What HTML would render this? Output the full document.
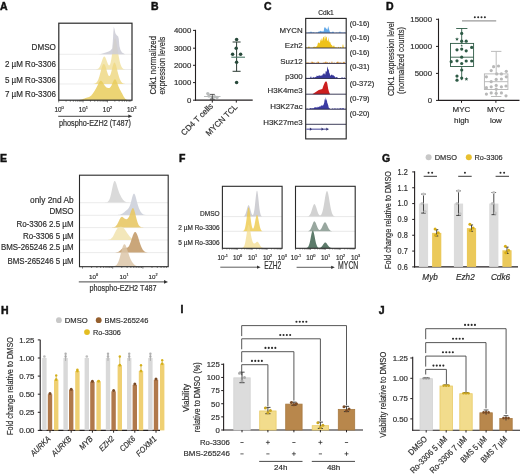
<!DOCTYPE html>
<html><head><meta charset="utf-8"><style>
html,body{margin:0;padding:0;background:#fff;width:520px;height:476px;overflow:hidden;}
svg{display:block;will-change:transform;font-family:"Liberation Sans", sans-serif;}
</style></head><body>
<svg width="520" height="476" viewBox="0 0 520 476" font-family='"Liberation Sans", sans-serif'>
<rect width="520" height="476" fill="#fff"/>
<text x="0.00" y="9.60" font-size="10.5" text-anchor="start" fill="#111" font-weight="bold" stroke="#111" stroke-width="0.45">A</text>
<text x="55.90" y="50.10" font-size="8.4" text-anchor="end" fill="#2e2e2e" stroke="#2e2e2e" stroke-width="0.18" textLength="24.3" lengthAdjust="spacingAndGlyphs">DMSO</text>
<text x="55.90" y="67.40" font-size="8.4" text-anchor="end" fill="#2e2e2e" stroke="#2e2e2e" stroke-width="0.18" textLength="51.0" lengthAdjust="spacingAndGlyphs">2 µM Ro-3306</text>
<text x="55.90" y="82.80" font-size="8.4" text-anchor="end" fill="#2e2e2e" stroke="#2e2e2e" stroke-width="0.18" textLength="51.0" lengthAdjust="spacingAndGlyphs">5 µM Ro-3306</text>
<text x="55.90" y="97.00" font-size="8.4" text-anchor="end" fill="#2e2e2e" stroke="#2e2e2e" stroke-width="0.18" textLength="51.0" lengthAdjust="spacingAndGlyphs">7 µM Ro-3306</text>
<line x1="59.00" y1="54.30" x2="132.00" y2="54.30" stroke="#e4e4e4" stroke-width="0.7"/>
<line x1="59.00" y1="69.50" x2="132.00" y2="69.50" stroke="#e4e4e4" stroke-width="0.7"/>
<line x1="59.00" y1="84.00" x2="132.00" y2="84.00" stroke="#e4e4e4" stroke-width="0.7"/>
<path d="M92.00,69.50 L92.00,69.50 L92.50,69.50 L93.00,69.50 L93.50,69.50 L94.00,69.49 L94.50,69.49 L95.00,69.48 L95.50,69.46 L96.00,69.42 L96.50,69.36 L97.00,69.25 L97.50,69.07 L98.00,68.81 L98.50,68.42 L99.00,67.87 L99.50,67.13 L100.00,66.19 L100.50,65.03 L101.00,63.69 L101.50,62.22 L102.00,60.71 L102.50,59.27 L103.00,58.03 L103.50,57.10 L104.00,56.59 L104.50,56.54 L105.00,56.96 L105.50,57.80 L106.00,58.97 L106.50,60.34 L107.00,61.77 L107.50,63.12 L108.00,64.26 L108.50,65.06 L109.00,65.42 L109.50,65.23 L110.00,64.43 L110.50,62.95 L111.00,60.77 L111.50,57.94 L112.00,54.57 L112.50,50.87 L113.00,47.13 L113.50,43.68 L114.00,40.86 L114.50,38.96 L115.00,38.18 L115.50,38.55 L116.00,39.99 L116.50,42.31 L117.00,45.24 L117.50,48.48 L118.00,51.78 L118.50,54.93 L119.00,57.80 L119.50,60.30 L120.00,62.42 L120.50,64.16 L121.00,65.57 L121.50,66.67 L122.00,67.52 L122.50,68.15 L123.00,68.60 L123.50,68.93 L124.00,69.14 L124.50,69.29 L125.00,69.38 L125.50,69.43 L126.00,69.46 L126.00,69.50 Z" fill="#f2e3a6" fill-opacity="0.9" stroke="none" stroke-width="0.4"/>
<path d="M90.00,84.00 L90.00,84.00 L90.50,84.00 L91.00,83.99 L91.50,83.99 L92.00,83.98 L92.50,83.96 L93.00,83.93 L93.50,83.89 L94.00,83.82 L94.50,83.71 L95.00,83.54 L95.50,83.31 L96.00,82.97 L96.50,82.52 L97.00,81.91 L97.50,81.12 L98.00,80.13 L98.50,78.93 L99.00,77.51 L99.50,75.89 L100.00,74.12 L100.50,72.25 L101.00,70.36 L101.50,68.55 L102.00,66.93 L102.50,65.58 L103.00,64.61 L103.50,64.08 L104.00,64.03 L104.50,64.45 L105.00,65.32 L105.50,66.56 L106.00,68.07 L106.50,69.74 L107.00,71.44 L107.50,73.03 L108.00,74.38 L108.50,75.39 L109.00,75.95 L109.50,75.99 L110.00,75.49 L110.50,74.46 L111.00,72.95 L111.50,71.09 L112.00,69.04 L112.50,67.00 L113.00,65.16 L113.50,63.72 L114.00,62.82 L114.50,62.56 L115.00,62.93 L115.50,63.90 L116.00,65.34 L116.50,67.13 L117.00,69.10 L117.50,71.14 L118.00,73.13 L118.50,74.98 L119.00,76.67 L119.50,78.15 L120.00,79.43 L120.50,80.51 L121.00,81.40 L121.50,82.11 L122.00,82.67 L122.50,83.09 L123.00,83.39 L123.50,83.61 L124.00,83.76 L124.50,83.86 L125.00,83.92 L125.50,83.95 L126.00,83.98 L126.00,84.00 Z" fill="#efd885" fill-opacity="0.85" stroke="none" stroke-width="0.4"/>
<path d="M78.00,100.20 L78.00,100.09 L78.50,100.05 L79.00,100.00 L79.50,99.94 L80.00,99.86 L80.50,99.77 L81.00,99.66 L81.50,99.53 L82.00,99.39 L82.50,99.23 L83.00,99.05 L83.50,98.87 L84.00,98.68 L84.50,98.48 L85.00,98.29 L85.50,98.10 L86.00,97.93 L86.50,97.76 L87.00,97.60 L87.50,97.45 L88.00,97.30 L88.50,97.13 L89.00,96.94 L89.50,96.71 L90.00,96.43 L90.50,96.08 L91.00,95.66 L91.50,95.17 L92.00,94.61 L92.50,93.98 L93.00,93.30 L93.50,92.57 L94.00,91.81 L94.50,91.03 L95.00,90.21 L95.50,89.36 L96.00,88.47 L96.50,87.53 L97.00,86.55 L97.50,85.53 L98.00,84.51 L98.50,83.51 L99.00,82.60 L99.50,81.82 L100.00,81.23 L100.50,80.87 L101.00,80.78 L101.50,80.96 L102.00,81.39 L102.50,82.02 L103.00,82.80 L103.50,83.65 L104.00,84.50 L104.50,85.30 L105.00,86.01 L105.50,86.59 L106.00,87.05 L106.50,87.40 L107.00,87.67 L107.50,87.86 L108.00,87.99 L108.50,88.05 L109.00,88.03 L109.50,87.88 L110.00,87.57 L110.50,87.06 L111.00,86.33 L111.50,85.40 L112.00,84.29 L112.50,83.09 L113.00,81.88 L113.50,80.79 L114.00,79.94 L114.50,79.41 L115.00,79.27 L115.50,79.55 L116.00,80.21 L116.50,81.20 L117.00,82.42 L117.50,83.76 L118.00,85.11 L118.50,86.41 L119.00,87.61 L119.50,88.69 L120.00,89.67 L120.50,90.59 L121.00,91.49 L121.50,92.41 L122.00,93.35 L122.50,94.31 L123.00,95.27 L123.50,96.20 L124.00,97.06 L124.50,97.82 L125.00,98.45 L125.50,98.97 L126.00,99.36 L126.50,99.65 L127.00,99.86 L127.50,99.99 L128.00,100.08 L128.00,100.20 Z" fill="#e9cc5c" fill-opacity="0.85" stroke="none" stroke-width="0.4"/>
<path d="M98,54.3 L101,53.9 L105,52.8 L108,51.8 L110.5,50.5 L112.2,48.4 L112.8,42 L113.3,33 L113.8,26.8 L114.5,29 L115.3,33 L115.8,34 L117,35.5 L118.2,36.4 L118.8,39 L119.4,46 L120.5,50 L122,52.5 L123.8,53.6 L125,54.3 Z" fill="#cbcbd5" fill-opacity="0.85"/>
<rect x="58.8" y="23.2" width="73.2" height="77.0" fill="none" stroke="#2a2a2a" stroke-width="1.2"/>
<line x1="58.70" y1="100.20" x2="58.70" y2="102.40" stroke="#333" stroke-width="0.6"/>
<line x1="66.05" y1="100.20" x2="66.05" y2="101.70" stroke="#333" stroke-width="0.6"/>
<line x1="70.34" y1="100.20" x2="70.34" y2="101.70" stroke="#333" stroke-width="0.6"/>
<line x1="73.39" y1="100.20" x2="73.39" y2="101.70" stroke="#333" stroke-width="0.6"/>
<line x1="75.75" y1="100.20" x2="75.75" y2="101.70" stroke="#333" stroke-width="0.6"/>
<line x1="77.69" y1="100.20" x2="77.69" y2="101.70" stroke="#333" stroke-width="0.6"/>
<line x1="79.32" y1="100.20" x2="79.32" y2="101.70" stroke="#333" stroke-width="0.6"/>
<line x1="80.74" y1="100.20" x2="80.74" y2="101.70" stroke="#333" stroke-width="0.6"/>
<line x1="81.98" y1="100.20" x2="81.98" y2="101.70" stroke="#333" stroke-width="0.6"/>
<line x1="83.10" y1="100.20" x2="83.10" y2="102.40" stroke="#333" stroke-width="0.6"/>
<line x1="90.45" y1="100.20" x2="90.45" y2="101.70" stroke="#333" stroke-width="0.6"/>
<line x1="94.74" y1="100.20" x2="94.74" y2="101.70" stroke="#333" stroke-width="0.6"/>
<line x1="97.79" y1="100.20" x2="97.79" y2="101.70" stroke="#333" stroke-width="0.6"/>
<line x1="100.15" y1="100.20" x2="100.15" y2="101.70" stroke="#333" stroke-width="0.6"/>
<line x1="102.09" y1="100.20" x2="102.09" y2="101.70" stroke="#333" stroke-width="0.6"/>
<line x1="103.72" y1="100.20" x2="103.72" y2="101.70" stroke="#333" stroke-width="0.6"/>
<line x1="105.14" y1="100.20" x2="105.14" y2="101.70" stroke="#333" stroke-width="0.6"/>
<line x1="106.38" y1="100.20" x2="106.38" y2="101.70" stroke="#333" stroke-width="0.6"/>
<line x1="107.50" y1="100.20" x2="107.50" y2="102.40" stroke="#333" stroke-width="0.6"/>
<line x1="114.85" y1="100.20" x2="114.85" y2="101.70" stroke="#333" stroke-width="0.6"/>
<line x1="119.14" y1="100.20" x2="119.14" y2="101.70" stroke="#333" stroke-width="0.6"/>
<line x1="122.19" y1="100.20" x2="122.19" y2="101.70" stroke="#333" stroke-width="0.6"/>
<line x1="124.55" y1="100.20" x2="124.55" y2="101.70" stroke="#333" stroke-width="0.6"/>
<line x1="126.49" y1="100.20" x2="126.49" y2="101.70" stroke="#333" stroke-width="0.6"/>
<line x1="128.12" y1="100.20" x2="128.12" y2="101.70" stroke="#333" stroke-width="0.6"/>
<line x1="129.54" y1="100.20" x2="129.54" y2="101.70" stroke="#333" stroke-width="0.6"/>
<line x1="130.78" y1="100.20" x2="130.78" y2="101.70" stroke="#333" stroke-width="0.6"/>
<text x="59.10" y="111.60" font-size="6.4" text-anchor="middle" fill="#2e2e2e" stroke="#2e2e2e" stroke-width="0.18">10<tspan font-size="3.97" dy="-2.6">0</tspan></text>
<text x="83.30" y="111.60" font-size="6.4" text-anchor="middle" fill="#2e2e2e" stroke="#2e2e2e" stroke-width="0.18">10<tspan font-size="3.97" dy="-2.6">1</tspan></text>
<text x="107.50" y="111.60" font-size="6.4" text-anchor="middle" fill="#2e2e2e" stroke="#2e2e2e" stroke-width="0.18">10<tspan font-size="3.97" dy="-2.6">2</tspan></text>
<text x="131.70" y="111.60" font-size="6.4" text-anchor="middle" fill="#2e2e2e" stroke="#2e2e2e" stroke-width="0.18">10<tspan font-size="3.97" dy="-2.6">3</tspan></text>
<line x1="58.20" y1="116.30" x2="129.50" y2="116.30" stroke="#333" stroke-width="0.9"/>
<path d="M132.3,116.3 L128.3,114.5 L128.3,118.1 Z" fill="#333"/>
<text x="95.00" y="125.50" font-size="8.4" text-anchor="middle" fill="#2e2e2e" stroke="#2e2e2e" stroke-width="0.18" textLength="72" lengthAdjust="spacingAndGlyphs">phospho-EZH2 (T487)</text>
<text x="151.00" y="9.80" font-size="10.5" text-anchor="start" fill="#111" font-weight="bold" stroke="#111" stroke-width="0.45">B</text>
<line x1="195.50" y1="29.80" x2="195.50" y2="100.70" stroke="#231f20" stroke-width="1.1"/>
<line x1="195.00" y1="100.20" x2="252.70" y2="100.20" stroke="#231f20" stroke-width="1.2"/>
<line x1="193.00" y1="30.40" x2="195.50" y2="30.40" stroke="#231f20" stroke-width="1"/>
<text x="191.30" y="33.20" font-size="7.8" text-anchor="end" fill="#2e2e2e" stroke="#2e2e2e" stroke-width="0.18">4000</text>
<line x1="193.00" y1="48.20" x2="195.50" y2="48.20" stroke="#231f20" stroke-width="1"/>
<text x="191.30" y="51.00" font-size="7.8" text-anchor="end" fill="#2e2e2e" stroke="#2e2e2e" stroke-width="0.18">3000</text>
<line x1="193.00" y1="65.30" x2="195.50" y2="65.30" stroke="#231f20" stroke-width="1"/>
<text x="191.30" y="68.10" font-size="7.8" text-anchor="end" fill="#2e2e2e" stroke="#2e2e2e" stroke-width="0.18">2000</text>
<line x1="193.00" y1="82.60" x2="195.50" y2="82.60" stroke="#231f20" stroke-width="1"/>
<text x="191.30" y="85.40" font-size="7.8" text-anchor="end" fill="#2e2e2e" stroke="#2e2e2e" stroke-width="0.18">1000</text>
<line x1="193.00" y1="100.20" x2="195.50" y2="100.20" stroke="#231f20" stroke-width="1"/>
<text x="191.30" y="103.00" font-size="7.8" text-anchor="end" fill="#2e2e2e" stroke="#2e2e2e" stroke-width="0.18">0</text>
<line x1="212.30" y1="100.20" x2="212.30" y2="102.60" stroke="#231f20" stroke-width="1"/>
<line x1="236.30" y1="100.20" x2="236.30" y2="102.60" stroke="#231f20" stroke-width="1"/>
<text x="156.00" y="65.30" font-size="9.3" text-anchor="middle" fill="#2e2e2e" stroke="#2e2e2e" stroke-width="0.18" textLength="58.6" lengthAdjust="spacingAndGlyphs" transform="rotate(-90 156.00 65.30)">Cdk1 normalized</text>
<text x="165.40" y="65.60" font-size="9.3" text-anchor="middle" fill="#2e2e2e" stroke="#2e2e2e" stroke-width="0.18" textLength="58" lengthAdjust="spacingAndGlyphs" transform="rotate(-90 165.40 65.60)">expression levels</text>
<text x="213.60" y="106.60" font-size="8.2" text-anchor="end" fill="#2e2e2e" stroke="#2e2e2e" stroke-width="0.18" textLength="41.5" lengthAdjust="spacingAndGlyphs" transform="rotate(-45 213.60 106.60)">CD4 T cells</text>
<text x="238.00" y="107.60" font-size="8.2" text-anchor="end" fill="#2e2e2e" stroke="#2e2e2e" stroke-width="0.18" textLength="41" lengthAdjust="spacingAndGlyphs" transform="rotate(-45 238.00 107.60)">MYCN TCL</text>
<line x1="204.00" y1="96.50" x2="220.50" y2="96.50" stroke="#b9bcbc" stroke-width="1.0"/>
<circle cx="207.80" cy="93.60" r="1.7" fill="#b9bcbc" stroke="none" stroke-width="0"/>
<circle cx="209.00" cy="96.00" r="1.7" fill="#b9bcbc" stroke="none" stroke-width="0"/>
<circle cx="214.50" cy="96.60" r="1.7" fill="#b9bcbc" stroke="none" stroke-width="0"/>
<circle cx="212.00" cy="98.40" r="1.7" fill="#b9bcbc" stroke="none" stroke-width="0"/>
<circle cx="217.00" cy="97.40" r="1.7" fill="#b9bcbc" stroke="none" stroke-width="0"/>
<line x1="212.30" y1="94.40" x2="212.30" y2="99.50" stroke="#333" stroke-width="0.8"/>
<line x1="209.80" y1="94.40" x2="214.80" y2="94.40" stroke="#333" stroke-width="0.8"/>
<line x1="209.80" y1="99.30" x2="214.80" y2="99.30" stroke="#333" stroke-width="0.8"/>
<line x1="236.60" y1="42.00" x2="236.60" y2="71.30" stroke="#2b3a33" stroke-width="1.0"/>
<line x1="232.60" y1="42.00" x2="240.60" y2="42.00" stroke="#2b3a33" stroke-width="1.0"/>
<line x1="232.60" y1="71.30" x2="240.60" y2="71.30" stroke="#2b3a33" stroke-width="1.0"/>
<line x1="231.30" y1="57.20" x2="245.00" y2="57.20" stroke="#4b7a68" stroke-width="1.1"/>
<circle cx="236.60" cy="39.60" r="1.75" fill="#28493b" stroke="none" stroke-width="0"/>
<circle cx="236.20" cy="48.20" r="1.75" fill="#28493b" stroke="none" stroke-width="0"/>
<circle cx="232.60" cy="54.30" r="1.75" fill="#28493b" stroke="none" stroke-width="0"/>
<circle cx="240.60" cy="54.30" r="1.75" fill="#28493b" stroke="none" stroke-width="0"/>
<circle cx="236.60" cy="62.30" r="1.75" fill="#28493b" stroke="none" stroke-width="0"/>
<circle cx="236.60" cy="82.60" r="1.75" fill="#28493b" stroke="none" stroke-width="0"/>
<text x="264.00" y="9.80" font-size="10.5" text-anchor="start" fill="#111" font-weight="bold" stroke="#111" stroke-width="0.45">C</text>
<text x="326.00" y="14.60" font-size="7.2" text-anchor="middle" fill="#2e2e2e" stroke="#2e2e2e" stroke-width="0.18" textLength="15.5" lengthAdjust="spacingAndGlyphs">Cdk1</text>
<text x="302.70" y="32.80" font-size="7.9" text-anchor="end" fill="#2e2e2e" stroke="#2e2e2e" stroke-width="0.18">MYCN</text>
<text x="302.70" y="48.00" font-size="7.9" text-anchor="end" fill="#2e2e2e" stroke="#2e2e2e" stroke-width="0.18">Ezh2</text>
<text x="302.70" y="63.70" font-size="7.9" text-anchor="end" fill="#2e2e2e" stroke="#2e2e2e" stroke-width="0.18">Suz12</text>
<text x="302.70" y="78.90" font-size="7.9" text-anchor="end" fill="#2e2e2e" stroke="#2e2e2e" stroke-width="0.18">p300</text>
<text x="302.70" y="93.40" font-size="7.9" text-anchor="end" fill="#2e2e2e" stroke="#2e2e2e" stroke-width="0.18">H3K4me3</text>
<text x="302.70" y="108.60" font-size="7.9" text-anchor="end" fill="#2e2e2e" stroke="#2e2e2e" stroke-width="0.18">H3K27ac</text>
<text x="302.70" y="124.50" font-size="7.9" text-anchor="end" fill="#2e2e2e" stroke="#2e2e2e" stroke-width="0.18">H3K27me3</text>
<text x="349.80" y="25.90" font-size="7.4" text-anchor="start" fill="#2e2e2e" stroke="#2e2e2e" stroke-width="0.18" textLength="19.8" lengthAdjust="spacingAndGlyphs">(0-16)</text>
<text x="349.80" y="40.20" font-size="7.4" text-anchor="start" fill="#2e2e2e" stroke="#2e2e2e" stroke-width="0.18" textLength="19.8" lengthAdjust="spacingAndGlyphs">(0-16)</text>
<text x="349.80" y="55.40" font-size="7.4" text-anchor="start" fill="#2e2e2e" stroke="#2e2e2e" stroke-width="0.18" textLength="19.8" lengthAdjust="spacingAndGlyphs">(0-16)</text>
<text x="349.80" y="68.80" font-size="7.4" text-anchor="start" fill="#2e2e2e" stroke="#2e2e2e" stroke-width="0.18" textLength="19.8" lengthAdjust="spacingAndGlyphs">(0-31)</text>
<text x="349.80" y="85.50" font-size="7.4" text-anchor="start" fill="#2e2e2e" stroke="#2e2e2e" stroke-width="0.18" textLength="24.6" lengthAdjust="spacingAndGlyphs">(0-372)</text>
<text x="349.80" y="101.00" font-size="7.4" text-anchor="start" fill="#2e2e2e" stroke="#2e2e2e" stroke-width="0.18" textLength="19.8" lengthAdjust="spacingAndGlyphs">(0-79)</text>
<text x="349.80" y="115.50" font-size="7.4" text-anchor="start" fill="#2e2e2e" stroke="#2e2e2e" stroke-width="0.18" textLength="19.8" lengthAdjust="spacingAndGlyphs">(0-20)</text>
<path d="M306.2,33.0 L306.20,32.81 L306.70,32.69 L307.20,32.61 L307.70,32.99 L308.20,32.82 L308.70,32.22 L309.20,32.34 L309.70,32.58 L310.20,32.40 L310.70,31.60 L311.20,31.60 L311.70,32.37 L312.20,32.82 L312.70,32.32 L313.20,32.32 L313.70,32.31 L314.20,32.63 L314.70,32.56 L315.20,32.42 L315.70,32.88 L316.20,32.19 L316.70,32.44 L317.20,32.43 L317.70,32.39 L318.20,31.90 L318.70,31.58 L319.20,31.15 L319.70,31.74 L320.20,30.78 L320.70,31.01 L321.20,31.47 L321.70,31.08 L322.20,31.94 L322.70,30.80 L323.20,31.57 L323.70,31.15 L324.20,28.03 L324.70,27.17 L325.20,27.34 L325.70,28.31 L326.20,28.38 L326.70,29.08 L327.20,30.12 L327.70,28.49 L328.20,26.07 L328.70,27.90 L329.20,29.80 L329.70,31.55 L330.20,31.97 L330.70,32.44 L331.20,32.36 L331.70,32.48 L332.20,32.23 L332.70,31.40 L333.20,31.40 L333.70,32.21 L334.20,32.67 L334.70,32.65 L335.20,32.98 L335.70,32.61 L336.20,32.51 L336.70,32.50 L337.20,32.37 L337.70,32.99 L338.20,32.33 L338.70,32.80 L339.20,32.57 L339.70,31.60 L340.20,31.60 L340.70,32.77 L341.20,32.53 L341.70,32.49 L342.20,32.79 L342.70,32.44 L343.20,32.85 L343.70,32.55 L344.20,32.76 L344.70,32.35 L345.20,32.43 L345.6,33.0 Z" fill="#62a8e8"/>
<path d="M306.2,48.0 L306.20,47.59 L306.70,47.06 L307.20,47.82 L307.70,47.54 L308.20,46.90 L308.70,46.50 L309.20,46.50 L309.70,47.21 L310.20,47.88 L310.70,47.26 L311.20,47.63 L311.70,47.55 L312.20,47.21 L312.70,47.93 L313.20,46.58 L313.70,47.18 L314.20,46.98 L314.70,46.52 L315.20,46.68 L315.70,46.98 L316.20,47.01 L316.70,46.09 L317.20,45.97 L317.70,43.85 L318.20,42.52 L318.70,42.83 L319.20,42.64 L319.70,43.38 L320.20,41.38 L320.70,39.14 L321.20,41.34 L321.70,38.53 L322.20,38.16 L322.70,41.33 L323.20,36.99 L323.70,37.26 L324.20,35.82 L324.70,41.31 L325.20,35.01 L325.70,39.42 L326.20,36.81 L326.70,36.79 L327.20,40.46 L327.70,40.61 L328.20,41.74 L328.70,37.02 L329.20,41.16 L329.70,42.62 L330.20,42.06 L330.70,43.64 L331.20,44.82 L331.70,45.06 L332.20,45.39 L332.70,46.75 L333.20,46.38 L333.70,45.50 L334.20,45.50 L334.70,47.27 L335.20,47.14 L335.70,47.33 L336.20,47.52 L336.70,47.28 L337.20,47.90 L337.70,47.39 L338.20,47.05 L338.70,46.81 L339.20,47.72 L339.70,47.83 L340.20,47.07 L340.70,47.03 L341.20,47.16 L341.70,47.88 L342.20,48.00 L342.70,44.50 L343.20,44.50 L343.70,47.25 L344.20,47.97 L344.70,47.83 L345.20,47.08 L345.6,48.0 Z" fill="#eec21b"/>
<path d="M306.2,63.4 L306.20,62.06 L306.70,62.84 L307.20,62.39 L307.70,62.84 L308.20,62.00 L308.70,63.33 L309.20,62.43 L309.70,63.19 L310.20,63.04 L310.70,62.52 L311.20,62.97 L311.70,61.60 L312.20,61.60 L312.70,62.25 L313.20,62.76 L313.70,62.27 L314.20,62.51 L314.70,62.68 L315.20,62.64 L315.70,63.24 L316.20,62.19 L316.70,62.70 L317.20,63.21 L317.70,61.60 L318.20,61.60 L318.70,62.09 L319.20,62.94 L319.70,62.67 L320.20,62.82 L320.70,63.25 L321.20,62.85 L321.70,63.21 L322.20,62.87 L322.70,63.12 L323.20,62.71 L323.70,62.59 L324.20,62.27 L324.70,62.64 L325.20,62.40 L325.70,61.60 L326.20,61.60 L326.70,63.03 L327.20,62.12 L327.70,62.58 L328.20,63.21 L328.70,63.11 L329.20,61.84 L329.70,62.95 L330.20,63.02 L330.70,62.84 L331.20,63.24 L331.70,61.60 L332.20,61.60 L332.70,63.39 L333.20,62.84 L333.70,63.10 L334.20,62.29 L334.70,62.96 L335.20,62.98 L335.70,63.20 L336.20,62.69 L336.70,62.33 L337.20,62.14 L337.70,61.40 L338.20,61.40 L338.70,62.97 L339.20,61.93 L339.70,62.97 L340.20,62.85 L340.70,62.30 L341.20,62.90 L341.70,62.45 L342.20,63.08 L342.70,62.87 L343.20,62.62 L343.70,61.80 L344.20,61.80 L344.70,62.59 L345.20,63.13 L345.6,63.4 Z" fill="#d98a1f"/>
<path d="M306.2,78.5 L306.20,78.41 L306.70,77.57 L307.20,77.69 L307.70,78.20 L308.20,77.74 L308.70,77.98 L309.20,77.64 L309.70,78.09 L310.20,77.68 L310.70,76.50 L311.20,76.50 L311.70,78.28 L312.20,77.17 L312.70,78.06 L313.20,77.45 L313.70,76.75 L314.20,77.41 L314.70,77.43 L315.20,76.81 L315.70,77.32 L316.20,76.89 L316.70,75.53 L317.20,75.98 L317.70,76.04 L318.20,75.25 L318.70,76.15 L319.20,75.56 L319.70,75.37 L320.20,75.99 L320.70,75.41 L321.20,75.44 L321.70,75.47 L322.20,75.44 L322.70,74.54 L323.20,72.99 L323.70,74.57 L324.20,72.91 L324.70,74.32 L325.20,74.75 L325.70,71.34 L326.20,71.00 L326.70,72.26 L327.20,67.95 L327.70,66.33 L328.20,69.91 L328.70,69.02 L329.20,72.77 L329.70,73.57 L330.20,75.73 L330.70,75.57 L331.20,74.99 L331.70,74.40 L332.20,74.68 L332.70,75.42 L333.20,75.28 L333.70,75.51 L334.20,76.01 L334.70,76.55 L335.20,76.96 L335.70,77.82 L336.20,77.32 L336.70,76.90 L337.20,76.90 L337.70,78.01 L338.20,78.42 L338.70,78.26 L339.20,78.43 L339.70,77.98 L340.20,77.88 L340.70,78.04 L341.20,78.46 L341.70,77.30 L342.20,77.30 L342.70,77.82 L343.20,78.39 L343.70,77.74 L344.20,77.57 L344.70,77.51 L345.20,78.24 L345.6,78.5 Z" fill="#38389a"/>
<path d="M312.3,94.2 L315,92.6 L318.8,90.0 L320.5,89.6 L322.3,89.0 L323.5,85.5 L324.9,82.3 L325.6,81.6 L326.6,81.6 L327.3,83.5 L328.1,88.4 L328.9,91.5 L330,94.2 Z" fill="#cc1f1f"/>
<path d="M306.2,109.2 L306.20,108.41 L306.70,108.95 L307.20,108.43 L307.70,108.78 L308.20,109.15 L308.70,109.04 L309.20,109.06 L309.70,108.42 L310.20,108.18 L310.70,108.07 L311.20,108.33 L311.70,108.53 L312.20,108.16 L312.70,108.22 L313.20,108.46 L313.70,108.00 L314.20,107.73 L314.70,107.29 L315.20,107.24 L315.70,107.24 L316.20,107.68 L316.70,107.02 L317.20,107.65 L317.70,106.68 L318.20,106.82 L318.70,107.16 L319.20,107.05 L319.70,106.09 L320.20,106.75 L320.70,105.93 L321.20,105.36 L321.70,105.78 L322.20,105.11 L322.70,105.92 L323.20,105.35 L323.70,104.17 L324.20,102.84 L324.70,98.94 L325.20,100.55 L325.70,97.01 L326.20,101.07 L326.70,98.60 L327.20,102.52 L327.70,103.80 L328.20,105.36 L328.70,107.38 L329.20,108.35 L329.70,108.24 L330.20,108.92 L330.70,108.88 L331.20,109.09 L331.70,108.95 L332.20,108.60 L332.70,108.38 L333.20,108.87 L333.70,108.88 L334.20,108.41 L334.70,108.57 L335.20,108.72 L335.70,108.40 L336.20,108.40 L336.70,109.13 L337.20,108.56 L337.70,108.59 L338.20,109.02 L338.70,108.38 L339.20,108.89 L339.70,108.20 L340.20,108.20 L340.70,108.22 L341.20,108.53 L341.70,108.74 L342.20,108.17 L342.70,108.35 L343.20,108.54 L343.70,108.11 L344.20,108.88 L344.70,109.07 L345.20,108.62 L345.6,109.2 Z" fill="#3b3ba3"/>
<line x1="305.80" y1="33.00" x2="346.00" y2="33.00" stroke="#2a2a4a" stroke-width="0.9"/>
<line x1="305.80" y1="48.00" x2="346.00" y2="48.00" stroke="#2a2a4a" stroke-width="0.9"/>
<line x1="305.80" y1="63.40" x2="346.00" y2="63.40" stroke="#2a2a4a" stroke-width="0.9"/>
<line x1="305.80" y1="78.50" x2="346.00" y2="78.50" stroke="#2a2a4a" stroke-width="0.9"/>
<line x1="305.80" y1="94.20" x2="346.00" y2="94.20" stroke="#2a2a4a" stroke-width="0.9"/>
<line x1="305.80" y1="109.20" x2="346.00" y2="109.20" stroke="#2a2a4a" stroke-width="0.9"/>
<line x1="305.80" y1="124.30" x2="346.00" y2="124.30" stroke="#2a2a4a" stroke-width="0.9"/>
<rect x="305.7" y="18.4" width="40.5" height="120.5" fill="none" stroke="#222" stroke-width="1.1"/>
<line x1="306.20" y1="129.20" x2="328.50" y2="129.20" stroke="#6c6cae" stroke-width="1.3"/>
<path d="M309.90,127.6 L312.00,129.2 L309.90,130.8 Z" fill="#34346e"/>
<path d="M321.50,127.6 L323.60,129.2 L321.50,130.8 Z" fill="#34346e"/>
<path d="M326.30,127.6 L328.40,129.2 L326.30,130.8 Z" fill="#34346e"/>
<text x="386.00" y="9.60" font-size="10.5" text-anchor="start" fill="#111" font-weight="bold" stroke="#111" stroke-width="0.45">D</text>
<line x1="438.50" y1="18.60" x2="438.50" y2="100.80" stroke="#231f20" stroke-width="1.1"/>
<line x1="438.00" y1="100.40" x2="519.50" y2="100.40" stroke="#231f20" stroke-width="1.1"/>
<line x1="436.00" y1="19.30" x2="438.50" y2="19.30" stroke="#231f20" stroke-width="1"/>
<text x="432.00" y="22.10" font-size="7.8" text-anchor="end" fill="#2e2e2e" stroke="#2e2e2e" stroke-width="0.18">15000</text>
<line x1="436.00" y1="46.40" x2="438.50" y2="46.40" stroke="#231f20" stroke-width="1"/>
<text x="432.00" y="49.20" font-size="7.8" text-anchor="end" fill="#2e2e2e" stroke="#2e2e2e" stroke-width="0.18">10000</text>
<line x1="436.00" y1="73.40" x2="438.50" y2="73.40" stroke="#231f20" stroke-width="1"/>
<text x="432.00" y="76.20" font-size="7.8" text-anchor="end" fill="#2e2e2e" stroke="#2e2e2e" stroke-width="0.18">5000</text>
<line x1="436.00" y1="100.40" x2="438.50" y2="100.40" stroke="#231f20" stroke-width="1"/>
<text x="432.00" y="103.20" font-size="7.8" text-anchor="end" fill="#2e2e2e" stroke="#2e2e2e" stroke-width="0.18">0</text>
<line x1="461.50" y1="100.40" x2="461.50" y2="102.80" stroke="#231f20" stroke-width="1"/>
<line x1="495.90" y1="100.40" x2="495.90" y2="102.80" stroke="#231f20" stroke-width="1"/>
<text x="394.40" y="58.80" font-size="9" text-anchor="middle" fill="#2e2e2e" stroke="#2e2e2e" stroke-width="0.18" textLength="74.5" lengthAdjust="spacingAndGlyphs" transform="rotate(-90 394.40 58.80)">CDK1 expression level</text>
<text x="404.00" y="60.40" font-size="9" text-anchor="middle" fill="#2e2e2e" stroke="#2e2e2e" stroke-width="0.18" textLength="67" lengthAdjust="spacingAndGlyphs" transform="rotate(-90 404.00 60.40)">(normalized counts)</text>
<text x="461.50" y="112.00" font-size="8" text-anchor="middle" fill="#2e2e2e" stroke="#2e2e2e" stroke-width="0.18">MYC</text>
<text x="461.50" y="122.80" font-size="8" text-anchor="middle" fill="#2e2e2e" stroke="#2e2e2e" stroke-width="0.18">high</text>
<text x="495.90" y="112.00" font-size="8" text-anchor="middle" fill="#2e2e2e" stroke="#2e2e2e" stroke-width="0.18">MYC</text>
<text x="495.90" y="122.80" font-size="8" text-anchor="middle" fill="#2e2e2e" stroke="#2e2e2e" stroke-width="0.18">low</text>
<line x1="462.00" y1="20.80" x2="496.20" y2="20.80" stroke="#9a9a9a" stroke-width="1.3"/>
<circle cx="474.83" cy="17.30" r="1.0" fill="#2a2a2a" stroke="none" stroke-width="0"/>
<circle cx="478.18" cy="17.30" r="1.0" fill="#2a2a2a" stroke="none" stroke-width="0"/>
<circle cx="481.53" cy="17.30" r="1.0" fill="#2a2a2a" stroke="none" stroke-width="0"/>
<circle cx="484.88" cy="17.30" r="1.0" fill="#2a2a2a" stroke="none" stroke-width="0"/>
<line x1="461.70" y1="28.50" x2="461.70" y2="43.30" stroke="#2d5a45" stroke-width="0.9"/>
<line x1="461.70" y1="66.50" x2="461.70" y2="80.20" stroke="#2d5a45" stroke-width="0.9"/>
<line x1="456.20" y1="28.50" x2="467.40" y2="28.50" stroke="#2d5a45" stroke-width="0.9"/>
<rect x="450.5" y="43.4" width="23.1" height="23.1" fill="none" stroke="#2d5a45" stroke-width="0.9"/>
<line x1="450.50" y1="57.20" x2="473.60" y2="57.20" stroke="#2d5a45" stroke-width="0.9"/>
<circle cx="461.70" cy="33.40" r="1.6" fill="#2d5a45" stroke="none" stroke-width="0"/>
<circle cx="461.70" cy="41.20" r="1.6" fill="#2d5a45" stroke="none" stroke-width="0"/>
<circle cx="466.20" cy="41.20" r="1.6" fill="#2d5a45" stroke="none" stroke-width="0"/>
<circle cx="457.00" cy="49.80" r="1.6" fill="#2d5a45" stroke="none" stroke-width="0"/>
<circle cx="461.70" cy="49.10" r="1.6" fill="#2d5a45" stroke="none" stroke-width="0"/>
<circle cx="466.20" cy="50.80" r="1.6" fill="#2d5a45" stroke="none" stroke-width="0"/>
<circle cx="471.70" cy="47.40" r="1.6" fill="#2d5a45" stroke="none" stroke-width="0"/>
<circle cx="461.70" cy="57.20" r="1.6" fill="#2d5a45" stroke="none" stroke-width="0"/>
<circle cx="451.20" cy="61.70" r="1.6" fill="#2d5a45" stroke="none" stroke-width="0"/>
<circle cx="457.00" cy="60.80" r="1.6" fill="#2d5a45" stroke="none" stroke-width="0"/>
<circle cx="461.70" cy="63.50" r="1.6" fill="#2d5a45" stroke="none" stroke-width="0"/>
<circle cx="466.20" cy="61.00" r="1.6" fill="#2d5a45" stroke="none" stroke-width="0"/>
<circle cx="471.70" cy="61.00" r="1.6" fill="#2d5a45" stroke="none" stroke-width="0"/>
<circle cx="461.70" cy="70.00" r="1.6" fill="#2d5a45" stroke="none" stroke-width="0"/>
<circle cx="457.00" cy="76.10" r="1.6" fill="#2d5a45" stroke="none" stroke-width="0"/>
<circle cx="461.70" cy="78.10" r="1.6" fill="#2d5a45" stroke="none" stroke-width="0"/>
<circle cx="457.00" cy="80.20" r="1.6" fill="#2d5a45" stroke="none" stroke-width="0"/>
<polygon points="457.00,37.20 457.53,38.47 458.90,38.58 457.86,39.48 458.18,40.82 457.00,40.10 455.82,40.82 456.14,39.48 455.10,38.58 456.47,38.47" fill="#2d5a45"/>
<polygon points="466.40,77.10 466.93,78.37 468.30,78.48 467.26,79.38 467.58,80.72 466.40,80.00 465.22,80.72 465.54,79.38 464.50,78.48 465.87,78.37" fill="#2d5a45"/>
<polygon points="461.70,44.30 462.04,45.13 462.94,45.20 462.26,45.78 462.46,46.65 461.70,46.19 460.94,46.65 461.14,45.78 460.46,45.20 461.36,45.13" fill="#2d5a45"/>
<line x1="496.20" y1="51.40" x2="496.20" y2="73.90" stroke="#b4b4b4" stroke-width="0.9"/>
<line x1="491.00" y1="51.40" x2="501.40" y2="51.40" stroke="#b4b4b4" stroke-width="0.9"/>
<rect x="484.4" y="73.9" width="23.5" height="15.6" fill="none" stroke="#b4b4b4" stroke-width="0.9"/>
<line x1="484.40" y1="81.70" x2="507.90" y2="81.70" stroke="#b4b4b4" stroke-width="0.9"/>
<line x1="496.20" y1="89.50" x2="496.20" y2="96.50" stroke="#b4b4b4" stroke-width="0.9"/>
<line x1="491.00" y1="96.50" x2="501.40" y2="96.50" stroke="#b4b4b4" stroke-width="0.9"/>
<circle cx="493.60" cy="66.70" r="1.6" fill="#b8b8b8" stroke="none" stroke-width="0"/>
<circle cx="498.50" cy="66.00" r="1.6" fill="#b8b8b8" stroke="none" stroke-width="0"/>
<circle cx="491.20" cy="70.60" r="1.6" fill="#b8b8b8" stroke="none" stroke-width="0"/>
<circle cx="506.30" cy="71.30" r="1.6" fill="#b8b8b8" stroke="none" stroke-width="0"/>
<circle cx="496.70" cy="73.90" r="1.6" fill="#b8b8b8" stroke="none" stroke-width="0"/>
<circle cx="501.40" cy="73.90" r="1.6" fill="#b8b8b8" stroke="none" stroke-width="0"/>
<circle cx="486.40" cy="76.80" r="1.6" fill="#b8b8b8" stroke="none" stroke-width="0"/>
<circle cx="506.30" cy="76.80" r="1.6" fill="#b8b8b8" stroke="none" stroke-width="0"/>
<circle cx="496.20" cy="79.40" r="1.6" fill="#b8b8b8" stroke="none" stroke-width="0"/>
<circle cx="501.40" cy="79.00" r="1.6" fill="#b8b8b8" stroke="none" stroke-width="0"/>
<circle cx="491.20" cy="81.70" r="1.6" fill="#b8b8b8" stroke="none" stroke-width="0"/>
<circle cx="486.40" cy="87.70" r="1.6" fill="#b8b8b8" stroke="none" stroke-width="0"/>
<circle cx="491.20" cy="86.80" r="1.6" fill="#b8b8b8" stroke="none" stroke-width="0"/>
<circle cx="496.20" cy="85.40" r="1.6" fill="#b8b8b8" stroke="none" stroke-width="0"/>
<circle cx="501.40" cy="86.80" r="1.6" fill="#b8b8b8" stroke="none" stroke-width="0"/>
<circle cx="506.00" cy="86.00" r="1.6" fill="#b8b8b8" stroke="none" stroke-width="0"/>
<circle cx="496.20" cy="89.10" r="1.6" fill="#b8b8b8" stroke="none" stroke-width="0"/>
<circle cx="486.40" cy="94.10" r="1.6" fill="#b8b8b8" stroke="none" stroke-width="0"/>
<circle cx="491.20" cy="92.90" r="1.6" fill="#b8b8b8" stroke="none" stroke-width="0"/>
<circle cx="496.20" cy="93.30" r="1.6" fill="#b8b8b8" stroke="none" stroke-width="0"/>
<circle cx="501.40" cy="92.90" r="1.6" fill="#b8b8b8" stroke="none" stroke-width="0"/>
<circle cx="506.00" cy="95.80" r="1.6" fill="#b8b8b8" stroke="none" stroke-width="0"/>
<text x="0.00" y="162.00" font-size="10.5" text-anchor="start" fill="#111" font-weight="bold" stroke="#111" stroke-width="0.45">E</text>
<text x="73.60" y="202.70" font-size="8.3" text-anchor="end" fill="#2e2e2e" stroke="#2e2e2e" stroke-width="0.18" textLength="43.5" lengthAdjust="spacingAndGlyphs">only 2nd Ab</text>
<text x="73.60" y="214.00" font-size="8.3" text-anchor="end" fill="#2e2e2e" stroke="#2e2e2e" stroke-width="0.18" textLength="24.2" lengthAdjust="spacingAndGlyphs">DMSO</text>
<text x="73.60" y="227.10" font-size="8.3" text-anchor="end" fill="#2e2e2e" stroke="#2e2e2e" stroke-width="0.18" textLength="57.2" lengthAdjust="spacingAndGlyphs">Ro-3306 2.5 µM</text>
<text x="73.60" y="239.20" font-size="8.3" text-anchor="end" fill="#2e2e2e" stroke="#2e2e2e" stroke-width="0.18" textLength="50.6" lengthAdjust="spacingAndGlyphs">Ro-3306 5 µM</text>
<text x="73.60" y="250.20" font-size="8.3" text-anchor="end" fill="#2e2e2e" stroke="#2e2e2e" stroke-width="0.18" textLength="72.7" lengthAdjust="spacingAndGlyphs">BMS-265246 2.5 µM</text>
<text x="73.60" y="263.60" font-size="8.3" text-anchor="end" fill="#2e2e2e" stroke="#2e2e2e" stroke-width="0.18" textLength="66.1" lengthAdjust="spacingAndGlyphs">BMS-265246 5 µM</text>
<line x1="80.00" y1="202.70" x2="168.00" y2="202.70" stroke="#e2e2e2" stroke-width="0.7"/>
<line x1="80.00" y1="215.30" x2="168.00" y2="215.30" stroke="#e2e2e2" stroke-width="0.7"/>
<line x1="80.00" y1="227.60" x2="168.00" y2="227.60" stroke="#e2e2e2" stroke-width="0.7"/>
<line x1="80.00" y1="240.00" x2="168.00" y2="240.00" stroke="#e2e2e2" stroke-width="0.7"/>
<line x1="80.00" y1="252.60" x2="168.00" y2="252.60" stroke="#e2e2e2" stroke-width="0.7"/>
<path d="M100.00,202.40 L100.00,202.40 L100.50,202.40 L101.00,202.40 L101.50,202.40 L102.00,202.40 L102.50,202.40 L103.00,202.40 L103.50,202.40 L104.00,202.40 L104.50,202.39 L105.00,202.38 L105.50,202.36 L106.00,202.32 L106.50,202.25 L107.00,202.13 L107.50,201.92 L108.00,201.60 L108.50,201.09 L109.00,200.36 L109.50,199.33 L110.00,197.98 L110.50,196.26 L111.00,194.21 L111.50,191.89 L112.00,189.42 L112.50,186.97 L113.00,184.72 L113.50,182.88 L114.00,181.59 L114.50,180.95 L115.00,180.99 L115.50,181.64 L116.00,182.79 L116.50,184.28 L117.00,185.95 L117.50,187.65 L118.00,189.29 L118.50,190.80 L119.00,192.17 L119.50,193.40 L120.00,194.53 L120.50,195.56 L121.00,196.53 L121.50,197.43 L122.00,198.27 L122.50,199.04 L123.00,199.73 L123.50,200.33 L124.00,200.83 L124.50,201.24 L125.00,201.57 L125.50,201.82 L126.00,202.01 L126.50,202.14 L127.00,202.23 L127.50,202.30 L128.00,202.34 L128.50,202.36 L129.00,202.38 L129.50,202.39 L130.00,202.39 L130.50,202.40 L131.00,202.40 L131.50,202.40 L132.00,202.40 L132.00,202.40 Z" fill="#dadada" fill-opacity="1" stroke="none" stroke-width="0.4"/>
<path d="M116.00,215.00 L116.00,214.99 L116.50,214.98 L117.00,214.96 L117.50,214.94 L118.00,214.92 L118.50,214.87 L119.00,214.82 L119.50,214.74 L120.00,214.63 L120.50,214.50 L121.00,214.32 L121.50,214.11 L122.00,213.85 L122.50,213.54 L123.00,213.20 L123.50,212.81 L124.00,212.39 L124.50,211.95 L125.00,211.51 L125.50,211.07 L126.00,210.64 L126.50,210.22 L127.00,209.81 L127.50,209.39 L128.00,208.90 L128.50,208.32 L129.00,207.56 L129.50,206.57 L130.00,205.32 L130.50,203.78 L131.00,202.00 L131.50,200.06 L132.00,198.10 L132.50,196.30 L133.00,194.84 L133.50,193.89 L134.00,193.56 L134.50,193.88 L135.00,194.82 L135.50,196.26 L136.00,198.05 L136.50,200.01 L137.00,201.98 L137.50,203.86 L138.00,205.57 L138.50,207.09 L139.00,208.40 L139.50,209.55 L140.00,210.55 L140.50,211.42 L141.00,212.18 L141.50,212.83 L142.00,213.38 L142.50,213.83 L143.00,214.18 L143.50,214.44 L144.00,214.64 L144.50,214.77 L145.00,214.86 L145.50,214.92 L146.00,214.96 L146.50,214.98 L147.00,214.99 L147.50,214.99 L148.00,215.00 L148.50,215.00 L149.00,215.00 L149.50,215.00 L150.00,215.00 L150.50,215.00 L151.00,215.00 L151.50,215.00 L152.00,215.00 L152.00,215.00 Z" fill="#d2d5de" fill-opacity="1" stroke="none" stroke-width="0.4"/>
<path d="M112.00,227.40 L112.00,227.37 L112.50,227.34 L113.00,227.30 L113.50,227.23 L114.00,227.12 L114.50,226.96 L115.00,226.72 L115.50,226.39 L116.00,225.95 L116.50,225.37 L117.00,224.65 L117.50,223.79 L118.00,222.81 L118.50,221.75 L119.00,220.66 L119.50,219.60 L120.00,218.64 L120.50,217.85 L121.00,217.28 L121.50,216.95 L122.00,216.87 L122.50,217.01 L123.00,217.31 L123.50,217.71 L124.00,218.15 L124.50,218.55 L125.00,218.87 L125.50,219.09 L126.00,219.20 L126.50,219.18 L127.00,219.03 L127.50,218.73 L128.00,218.25 L128.50,217.56 L129.00,216.64 L129.50,215.50 L130.00,214.16 L130.50,212.71 L131.00,211.26 L131.50,209.93 L132.00,208.89 L132.50,208.25 L133.00,208.12 L133.50,208.53 L134.00,209.47 L134.50,210.88 L135.00,212.65 L135.50,214.63 L136.00,216.69 L136.50,218.70 L137.00,220.55 L137.50,222.18 L138.00,223.54 L138.50,224.64 L139.00,225.49 L139.50,226.12 L140.00,226.57 L140.50,226.87 L141.00,227.08 L141.50,227.21 L142.00,227.29 L142.50,227.34 L143.00,227.37 L143.50,227.38 L144.00,227.39 L144.50,227.40 L145.00,227.40 L145.50,227.40 L146.00,227.40 L146.50,227.40 L147.00,227.40 L147.50,227.40 L148.00,227.40 L148.00,227.40 Z" fill="#e8c865" fill-opacity="0.9" stroke="none" stroke-width="0.4"/>
<path d="M108.00,240.00 L108.00,239.88 L108.50,239.82 L109.00,239.72 L109.50,239.58 L110.00,239.39 L110.50,239.13 L111.00,238.78 L111.50,238.35 L112.00,237.81 L112.50,237.15 L113.00,236.39 L113.50,235.53 L114.00,234.59 L114.50,233.60 L115.00,232.58 L115.50,231.58 L116.00,230.62 L116.50,229.74 L117.00,228.97 L117.50,228.32 L118.00,227.80 L118.50,227.40 L119.00,227.11 L119.50,226.91 L120.00,226.79 L120.50,226.75 L121.00,226.76 L121.50,226.85 L122.00,227.01 L122.50,227.25 L123.00,227.58 L123.50,228.00 L124.00,228.51 L124.50,229.10 L125.00,229.76 L125.50,230.46 L126.00,231.20 L126.50,231.95 L127.00,232.70 L127.50,233.44 L128.00,234.15 L128.50,234.85 L129.00,235.51 L129.50,236.14 L130.00,236.72 L130.50,237.27 L131.00,237.76 L131.50,238.20 L132.00,238.58 L132.50,238.91 L133.00,239.18 L133.50,239.40 L134.00,239.57 L134.50,239.70 L135.00,239.79 L135.50,239.86 L136.00,239.91 L136.50,239.94 L137.00,239.97 L137.50,239.98 L138.00,239.99 L138.50,239.99 L139.00,240.00 L139.50,240.00 L140.00,240.00 L140.50,240.00 L141.00,240.00 L141.50,240.00 L142.00,240.00 L142.00,240.00 Z" fill="#f2e4b2" fill-opacity="0.9" stroke="none" stroke-width="0.4"/>
<path d="M112.00,252.50 L112.00,252.50 L112.50,252.50 L113.00,252.49 L113.50,252.49 L114.00,252.48 L114.50,252.47 L115.00,252.45 L115.50,252.42 L116.00,252.37 L116.50,252.30 L117.00,252.20 L117.50,252.07 L118.00,251.89 L118.50,251.66 L119.00,251.38 L119.50,251.04 L120.00,250.64 L120.50,250.21 L121.00,249.75 L121.50,249.29 L122.00,248.85 L122.50,248.45 L123.00,248.12 L123.50,247.88 L124.00,247.73 L124.50,247.67 L125.00,247.68 L125.50,247.74 L126.00,247.80 L126.50,247.83 L127.00,247.77 L127.50,247.59 L128.00,247.24 L128.50,246.71 L129.00,245.96 L129.50,245.01 L130.00,243.85 L130.50,242.53 L131.00,241.07 L131.50,239.54 L132.00,237.99 L132.50,236.49 L133.00,235.11 L133.50,233.92 L134.00,232.98 L134.50,232.34 L135.00,232.02 L135.50,232.06 L136.00,232.45 L136.50,233.16 L137.00,234.18 L137.50,235.43 L138.00,236.87 L138.50,238.44 L139.00,240.07 L139.50,241.69 L140.00,243.27 L140.50,244.75 L141.00,246.10 L141.50,247.31 L142.00,248.37 L142.50,249.26 L143.00,250.01 L143.50,250.61 L144.00,251.10 L144.50,251.47 L145.00,251.76 L145.50,251.98 L146.00,252.14 L146.50,252.25 L147.00,252.33 L147.50,252.39 L148.00,252.43 L148.50,252.46 L149.00,252.47 L149.50,252.48 L150.00,252.49 L150.50,252.49 L151.00,252.50 L151.50,252.50 L152.00,252.50 L152.50,252.50 L153.00,252.50 L153.50,252.50 L154.00,252.50 L154.50,252.50 L155.00,252.50 L155.50,252.50 L156.00,252.50 L156.00,252.50 Z" fill="#c49c6c" fill-opacity="0.9" stroke="none" stroke-width="0.4"/>
<path d="M108.00,266.30 L108.00,266.30 L108.50,266.30 L109.00,266.30 L109.50,266.30 L110.00,266.30 L110.50,266.30 L111.00,266.29 L111.50,266.29 L112.00,266.28 L112.50,266.26 L113.00,266.23 L113.50,266.19 L114.00,266.12 L114.50,266.01 L115.00,265.86 L115.50,265.63 L116.00,265.32 L116.50,264.89 L117.00,264.31 L117.50,263.56 L118.00,262.62 L118.50,261.46 L119.00,260.08 L119.50,258.49 L120.00,256.72 L120.50,254.81 L121.00,252.82 L121.50,250.84 L122.00,248.97 L122.50,247.30 L123.00,245.91 L123.50,244.90 L124.00,244.30 L124.50,244.14 L125.00,244.43 L125.50,245.11 L126.00,246.13 L126.50,247.41 L127.00,248.87 L127.50,250.43 L128.00,252.02 L128.50,253.57 L129.00,255.05 L129.50,256.44 L130.00,257.71 L130.50,258.88 L131.00,259.94 L131.50,260.91 L132.00,261.78 L132.50,262.56 L133.00,263.26 L133.50,263.87 L134.00,264.39 L134.50,264.84 L135.00,265.20 L135.50,265.49 L136.00,265.72 L136.50,265.90 L137.00,266.03 L137.50,266.12 L138.00,266.18 L138.50,266.23 L139.00,266.25 L139.50,266.27 L140.00,266.28 L140.50,266.29 L141.00,266.30 L141.50,266.30 L142.00,266.30 L142.50,266.30 L143.00,266.30 L143.50,266.30 L144.00,266.30 L144.50,266.30 L145.00,266.30 L145.00,266.30 Z" fill="#dcc6a8" fill-opacity="0.85" stroke="none" stroke-width="0.4"/>
<rect x="79.5" y="175.2" width="88.7" height="91.5" fill="none" stroke="#2a2a2a" stroke-width="1.1"/>
<line x1="82.50" y1="266.70" x2="82.50" y2="268.60" stroke="#333" stroke-width="0.6"/>
<line x1="91.59" y1="266.70" x2="91.59" y2="268.00" stroke="#333" stroke-width="0.6"/>
<line x1="96.91" y1="266.70" x2="96.91" y2="268.00" stroke="#333" stroke-width="0.6"/>
<line x1="100.68" y1="266.70" x2="100.68" y2="268.00" stroke="#333" stroke-width="0.6"/>
<line x1="103.61" y1="266.70" x2="103.61" y2="268.00" stroke="#333" stroke-width="0.6"/>
<line x1="106.00" y1="266.70" x2="106.00" y2="268.00" stroke="#333" stroke-width="0.6"/>
<line x1="108.02" y1="266.70" x2="108.02" y2="268.00" stroke="#333" stroke-width="0.6"/>
<line x1="109.77" y1="266.70" x2="109.77" y2="268.00" stroke="#333" stroke-width="0.6"/>
<line x1="111.32" y1="266.70" x2="111.32" y2="268.00" stroke="#333" stroke-width="0.6"/>
<line x1="112.70" y1="266.70" x2="112.70" y2="268.60" stroke="#333" stroke-width="0.6"/>
<line x1="121.79" y1="266.70" x2="121.79" y2="268.00" stroke="#333" stroke-width="0.6"/>
<line x1="127.11" y1="266.70" x2="127.11" y2="268.00" stroke="#333" stroke-width="0.6"/>
<line x1="130.88" y1="266.70" x2="130.88" y2="268.00" stroke="#333" stroke-width="0.6"/>
<line x1="133.81" y1="266.70" x2="133.81" y2="268.00" stroke="#333" stroke-width="0.6"/>
<line x1="136.20" y1="266.70" x2="136.20" y2="268.00" stroke="#333" stroke-width="0.6"/>
<line x1="138.22" y1="266.70" x2="138.22" y2="268.00" stroke="#333" stroke-width="0.6"/>
<line x1="139.97" y1="266.70" x2="139.97" y2="268.00" stroke="#333" stroke-width="0.6"/>
<line x1="141.52" y1="266.70" x2="141.52" y2="268.00" stroke="#333" stroke-width="0.6"/>
<line x1="142.90" y1="266.70" x2="142.90" y2="268.60" stroke="#333" stroke-width="0.6"/>
<line x1="151.99" y1="266.70" x2="151.99" y2="268.00" stroke="#333" stroke-width="0.6"/>
<line x1="157.31" y1="266.70" x2="157.31" y2="268.00" stroke="#333" stroke-width="0.6"/>
<line x1="161.08" y1="266.70" x2="161.08" y2="268.00" stroke="#333" stroke-width="0.6"/>
<line x1="164.01" y1="266.70" x2="164.01" y2="268.00" stroke="#333" stroke-width="0.6"/>
<line x1="166.40" y1="266.70" x2="166.40" y2="268.00" stroke="#333" stroke-width="0.6"/>
<text x="93.60" y="278.50" font-size="6.2" text-anchor="middle" fill="#2e2e2e" stroke="#2e2e2e" stroke-width="0.18">10<tspan font-size="3.84" dy="-2.6">0</tspan></text>
<text x="124.00" y="278.50" font-size="6.2" text-anchor="middle" fill="#2e2e2e" stroke="#2e2e2e" stroke-width="0.18">10<tspan font-size="3.84" dy="-2.6">1</tspan></text>
<text x="153.00" y="278.50" font-size="6.2" text-anchor="middle" fill="#2e2e2e" stroke="#2e2e2e" stroke-width="0.18">10<tspan font-size="3.84" dy="-2.6">2</tspan></text>
<line x1="78.80" y1="281.90" x2="165.00" y2="281.90" stroke="#333" stroke-width="0.9"/>
<path d="M168,281.9 L164,280.1 L164,283.7 Z" fill="#333"/>
<text x="123.00" y="291.00" font-size="8.4" text-anchor="middle" fill="#2e2e2e" stroke="#2e2e2e" stroke-width="0.18" textLength="67" lengthAdjust="spacingAndGlyphs">phospho-EZH2 T487</text>
<text x="179.00" y="161.60" font-size="10.5" text-anchor="start" fill="#111" font-weight="bold" stroke="#111" stroke-width="0.45">F</text>
<text x="219.60" y="215.90" font-size="6.5" text-anchor="end" fill="#2e2e2e" stroke="#2e2e2e" stroke-width="0.18">DMSO</text>
<text x="219.60" y="230.10" font-size="6.5" text-anchor="end" fill="#2e2e2e" stroke="#2e2e2e" stroke-width="0.18">2 µM Ro-3306</text>
<text x="219.60" y="244.80" font-size="6.5" text-anchor="end" fill="#2e2e2e" stroke="#2e2e2e" stroke-width="0.18">5 µM Ro-3306</text>
<line x1="222.40" y1="216.60" x2="282.10" y2="216.60" stroke="#e0e0e0" stroke-width="0.7"/>
<line x1="222.40" y1="231.30" x2="282.10" y2="231.30" stroke="#e0e0e0" stroke-width="0.7"/>
<line x1="295.50" y1="216.60" x2="355.20" y2="216.60" stroke="#e0e0e0" stroke-width="0.7"/>
<line x1="295.50" y1="231.30" x2="355.20" y2="231.30" stroke="#e0e0e0" stroke-width="0.7"/>
<path d="M238.00,216.60 L238.00,216.60 L238.50,216.60 L239.00,216.60 L239.50,216.60 L240.00,216.60 L240.50,216.60 L241.00,216.60 L241.50,216.60 L242.00,216.59 L242.50,216.56 L243.00,216.51 L243.50,216.39 L244.00,216.16 L244.50,215.74 L245.00,215.04 L245.50,213.99 L246.00,212.55 L246.50,210.78 L247.00,208.85 L247.50,207.06 L248.00,205.72 L248.50,205.12 L249.00,205.38 L249.50,206.45 L250.00,208.10 L250.50,210.01 L251.00,211.85 L251.50,213.39 L252.00,214.47 L252.50,215.00 L253.00,214.88 L253.50,213.94 L254.00,211.99 L254.50,208.88 L255.00,204.68 L255.50,199.84 L256.00,195.21 L256.50,191.84 L257.00,190.60 L257.50,191.84 L258.00,195.21 L258.50,199.85 L259.00,204.70 L259.50,208.93 L260.00,212.12 L260.50,214.22 L261.00,215.46 L261.50,216.10 L262.00,216.40 L262.50,216.53 L263.00,216.58 L263.50,216.59 L264.00,216.60 L264.50,216.60 L265.00,216.60 L265.50,216.60 L266.00,216.60 L266.50,216.60 L267.00,216.60 L267.50,216.60 L268.00,216.60 L268.00,216.60 Z" fill="#cfcfd4" fill-opacity="1" stroke="none" stroke-width="0.4"/>
<path d="M238.00,231.30 L238.00,231.30 L238.50,231.30 L239.00,231.30 L239.50,231.30 L240.00,231.30 L240.50,231.30 L241.00,231.30 L241.50,231.29 L242.00,231.27 L242.50,231.22 L243.00,231.11 L243.50,230.87 L244.00,230.38 L244.50,229.51 L245.00,228.05 L245.50,225.85 L246.00,222.84 L246.50,219.15 L247.00,215.13 L247.50,211.39 L248.00,208.60 L248.50,207.34 L249.00,207.88 L249.50,210.12 L250.00,213.56 L250.50,217.53 L251.00,221.37 L251.50,224.59 L252.00,226.92 L252.50,228.28 L253.00,228.69 L253.50,228.22 L254.00,226.92 L254.50,224.90 L255.00,222.36 L255.50,219.62 L256.00,217.15 L256.50,215.42 L257.00,214.80 L257.50,215.42 L258.00,217.16 L258.50,219.64 L259.00,222.40 L259.50,225.01 L260.00,227.19 L260.50,228.81 L261.00,229.90 L261.50,230.58 L262.00,230.95 L262.50,231.15 L263.00,231.24 L263.50,231.28 L264.00,231.29 L264.50,231.30 L265.00,231.30 L265.50,231.30 L266.00,231.30 L266.50,231.30 L267.00,231.30 L267.50,231.30 L268.00,231.30 L268.00,231.30 Z" fill="#edc94a" fill-opacity="0.8" stroke="none" stroke-width="0.4"/>
<path d="M238.00,248.00 L238.00,248.00 L238.50,248.00 L239.00,248.00 L239.50,248.00 L240.00,248.00 L240.50,247.99 L241.00,247.98 L241.50,247.96 L242.00,247.90 L242.50,247.78 L243.00,247.54 L243.50,247.11 L244.00,246.37 L244.50,245.19 L245.00,243.45 L245.50,241.08 L246.00,238.11 L246.50,234.73 L247.00,231.27 L247.50,228.16 L248.00,225.88 L248.50,224.79 L249.00,225.05 L249.50,226.56 L250.00,229.02 L250.50,231.97 L251.00,234.95 L251.50,237.63 L252.00,239.79 L252.50,241.39 L253.00,242.48 L253.50,243.14 L254.00,243.45 L254.50,243.49 L255.00,243.30 L255.50,242.93 L256.00,242.47 L256.50,242.05 L257.00,241.78 L257.50,241.76 L258.00,242.05 L258.50,242.64 L259.00,243.44 L259.50,244.35 L260.00,245.25 L260.50,246.05 L261.00,246.70 L261.50,247.19 L262.00,247.52 L262.50,247.74 L263.00,247.86 L263.50,247.93 L264.00,247.97 L264.50,247.99 L265.00,247.99 L265.50,248.00 L266.00,248.00 L266.50,248.00 L267.00,248.00 L267.50,248.00 L268.00,248.00 L268.00,248.00 Z" fill="#f3dc8e" fill-opacity="0.75" stroke="none" stroke-width="0.4"/>
<path d="M300.00,216.60 L300.00,216.60 L300.50,216.60 L301.00,216.60 L301.50,216.60 L302.00,216.60 L302.50,216.60 L303.00,216.60 L303.50,216.60 L304.00,216.60 L304.50,216.60 L305.00,216.60 L305.50,216.59 L306.00,216.58 L306.50,216.57 L307.00,216.53 L307.50,216.46 L308.00,216.34 L308.50,216.13 L309.00,215.81 L309.50,215.31 L310.00,214.59 L310.50,213.63 L311.00,212.41 L311.50,210.95 L312.00,209.35 L312.50,207.71 L313.00,206.21 L313.50,205.02 L314.00,204.29 L314.50,204.11 L315.00,204.52 L315.50,205.45 L316.00,206.78 L316.50,208.36 L317.00,209.99 L317.50,211.54 L318.00,212.89 L318.50,213.97 L319.00,214.76 L319.50,215.25 L320.00,215.45 L320.50,215.36 L321.00,214.96 L321.50,214.23 L322.00,213.10 L322.50,211.53 L323.00,209.50 L323.50,207.02 L324.00,204.19 L324.50,201.13 L325.00,198.08 L325.50,195.30 L326.00,193.06 L326.50,191.60 L327.00,191.10 L327.50,191.60 L328.00,193.06 L328.50,195.30 L329.00,198.08 L329.50,201.13 L330.00,204.19 L330.50,207.03 L331.00,209.51 L331.50,211.55 L332.00,213.15 L332.50,214.33 L333.00,215.17 L333.50,215.73 L334.00,216.09 L334.50,216.32 L335.00,216.45 L335.50,216.52 L336.00,216.56 L336.50,216.58 L337.00,216.59 L337.50,216.60 L338.00,216.60 L338.50,216.60 L339.00,216.60 L339.50,216.60 L340.00,216.60 L340.50,216.60 L341.00,216.60 L341.50,216.60 L342.00,216.60 L342.50,216.60 L343.00,216.60 L343.50,216.60 L344.00,216.60 L344.50,216.60 L345.00,216.60 L345.00,216.60 Z" fill="#d2d2d2" fill-opacity="1" stroke="none" stroke-width="0.4"/>
<path d="M300.00,231.30 L300.00,231.30 L300.50,231.30 L301.00,231.30 L301.50,231.30 L302.00,231.30 L302.50,231.30 L303.00,231.30 L303.50,231.30 L304.00,231.30 L304.50,231.30 L305.00,231.30 L305.50,231.30 L306.00,231.29 L306.50,231.28 L307.00,231.27 L307.50,231.23 L308.00,231.15 L308.50,231.03 L309.00,230.81 L309.50,230.46 L310.00,229.95 L310.50,229.22 L311.00,228.27 L311.50,227.11 L312.00,225.78 L312.50,224.41 L313.00,223.13 L313.50,222.10 L314.00,221.46 L314.50,221.31 L315.00,221.66 L315.50,222.47 L316.00,223.62 L316.50,224.94 L317.00,226.29 L317.50,227.53 L318.00,228.55 L318.50,229.31 L319.00,229.78 L319.50,229.97 L320.00,229.88 L320.50,229.53 L321.00,228.94 L321.50,228.14 L322.00,227.15 L322.50,226.06 L323.00,224.94 L323.50,223.89 L324.00,223.05 L324.50,222.49 L325.00,222.30 L325.50,222.49 L326.00,223.05 L326.50,223.90 L327.00,224.94 L327.50,226.07 L328.00,227.18 L328.50,228.19 L329.00,229.06 L329.50,229.75 L330.00,230.27 L330.50,230.65 L331.00,230.90 L331.50,231.07 L332.00,231.17 L332.50,231.23 L333.00,231.27 L333.50,231.28 L334.00,231.29 L334.50,231.30 L335.00,231.30 L335.50,231.30 L336.00,231.30 L336.50,231.30 L337.00,231.30 L337.50,231.30 L338.00,231.30 L338.50,231.30 L339.00,231.30 L339.50,231.30 L340.00,231.30 L340.50,231.30 L341.00,231.30 L341.50,231.30 L342.00,231.30 L342.50,231.30 L343.00,231.30 L343.50,231.30 L344.00,231.30 L344.50,231.30 L345.00,231.30 L345.00,231.30 Z" fill="#98a79f" fill-opacity="1" stroke="none" stroke-width="0.4"/>
<path d="M300.00,248.00 L300.00,248.00 L300.50,248.00 L301.00,248.00 L301.50,248.00 L302.00,248.00 L302.50,248.00 L303.00,248.00 L303.50,248.00 L304.00,248.00 L304.50,248.00 L305.00,247.99 L305.50,247.98 L306.00,247.95 L306.50,247.88 L307.00,247.74 L307.50,247.48 L308.00,247.02 L308.50,246.27 L309.00,245.12 L309.50,243.51 L310.00,241.43 L310.50,238.97 L311.00,236.33 L311.50,233.83 L312.00,231.85 L312.50,230.70 L313.00,230.59 L313.50,231.54 L314.00,233.38 L314.50,235.81 L315.00,238.44 L315.50,240.96 L316.00,243.13 L316.50,244.84 L317.00,246.07 L317.50,246.88 L318.00,247.38 L318.50,247.65 L319.00,247.77 L319.50,247.77 L320.00,247.67 L320.50,247.48 L321.00,247.18 L321.50,246.76 L322.00,246.21 L322.50,245.55 L323.00,244.82 L323.50,244.06 L324.00,243.38 L324.50,242.85 L325.00,242.55 L325.50,242.52 L326.00,242.77 L326.50,243.26 L327.00,243.92 L327.50,244.66 L328.00,245.41 L328.50,246.09 L329.00,246.66 L329.50,247.11 L330.00,247.44 L330.50,247.66 L331.00,247.81 L331.50,247.90 L332.00,247.95 L332.50,247.97 L333.00,247.99 L333.50,247.99 L334.00,248.00 L334.50,248.00 L335.00,248.00 L335.50,248.00 L336.00,248.00 L336.50,248.00 L337.00,248.00 L337.50,248.00 L338.00,248.00 L338.50,248.00 L339.00,248.00 L339.50,248.00 L340.00,248.00 L340.50,248.00 L341.00,248.00 L341.50,248.00 L342.00,248.00 L342.50,248.00 L343.00,248.00 L343.50,248.00 L344.00,248.00 L344.50,248.00 L345.00,248.00 L345.00,248.00 Z" fill="#5d7b6b" fill-opacity="1" stroke="none" stroke-width="0.4"/>
<rect x="222.4" y="186.3" width="59.7" height="62" fill="none" stroke="#2a2a2a" stroke-width="1.1"/>
<line x1="222.40" y1="248.30" x2="222.40" y2="250.00" stroke="#333" stroke-width="0.5"/>
<line x1="226.89" y1="248.30" x2="226.89" y2="249.50" stroke="#333" stroke-width="0.5"/>
<line x1="229.51" y1="248.30" x2="229.51" y2="249.50" stroke="#333" stroke-width="0.5"/>
<line x1="231.37" y1="248.30" x2="231.37" y2="249.50" stroke="#333" stroke-width="0.5"/>
<line x1="232.81" y1="248.30" x2="232.81" y2="249.50" stroke="#333" stroke-width="0.5"/>
<line x1="233.99" y1="248.30" x2="233.99" y2="249.50" stroke="#333" stroke-width="0.5"/>
<line x1="234.99" y1="248.30" x2="234.99" y2="249.50" stroke="#333" stroke-width="0.5"/>
<line x1="235.86" y1="248.30" x2="235.86" y2="249.50" stroke="#333" stroke-width="0.5"/>
<line x1="236.62" y1="248.30" x2="236.62" y2="249.50" stroke="#333" stroke-width="0.5"/>
<line x1="237.30" y1="248.30" x2="237.30" y2="250.00" stroke="#333" stroke-width="0.5"/>
<line x1="241.79" y1="248.30" x2="241.79" y2="249.50" stroke="#333" stroke-width="0.5"/>
<line x1="244.41" y1="248.30" x2="244.41" y2="249.50" stroke="#333" stroke-width="0.5"/>
<line x1="246.27" y1="248.30" x2="246.27" y2="249.50" stroke="#333" stroke-width="0.5"/>
<line x1="247.71" y1="248.30" x2="247.71" y2="249.50" stroke="#333" stroke-width="0.5"/>
<line x1="248.89" y1="248.30" x2="248.89" y2="249.50" stroke="#333" stroke-width="0.5"/>
<line x1="249.89" y1="248.30" x2="249.89" y2="249.50" stroke="#333" stroke-width="0.5"/>
<line x1="250.76" y1="248.30" x2="250.76" y2="249.50" stroke="#333" stroke-width="0.5"/>
<line x1="251.52" y1="248.30" x2="251.52" y2="249.50" stroke="#333" stroke-width="0.5"/>
<line x1="252.20" y1="248.30" x2="252.20" y2="250.00" stroke="#333" stroke-width="0.5"/>
<line x1="256.69" y1="248.30" x2="256.69" y2="249.50" stroke="#333" stroke-width="0.5"/>
<line x1="259.31" y1="248.30" x2="259.31" y2="249.50" stroke="#333" stroke-width="0.5"/>
<line x1="261.17" y1="248.30" x2="261.17" y2="249.50" stroke="#333" stroke-width="0.5"/>
<line x1="262.61" y1="248.30" x2="262.61" y2="249.50" stroke="#333" stroke-width="0.5"/>
<line x1="263.79" y1="248.30" x2="263.79" y2="249.50" stroke="#333" stroke-width="0.5"/>
<line x1="264.79" y1="248.30" x2="264.79" y2="249.50" stroke="#333" stroke-width="0.5"/>
<line x1="265.66" y1="248.30" x2="265.66" y2="249.50" stroke="#333" stroke-width="0.5"/>
<line x1="266.42" y1="248.30" x2="266.42" y2="249.50" stroke="#333" stroke-width="0.5"/>
<line x1="267.10" y1="248.30" x2="267.10" y2="250.00" stroke="#333" stroke-width="0.5"/>
<line x1="271.59" y1="248.30" x2="271.59" y2="249.50" stroke="#333" stroke-width="0.5"/>
<line x1="274.21" y1="248.30" x2="274.21" y2="249.50" stroke="#333" stroke-width="0.5"/>
<line x1="276.07" y1="248.30" x2="276.07" y2="249.50" stroke="#333" stroke-width="0.5"/>
<line x1="277.51" y1="248.30" x2="277.51" y2="249.50" stroke="#333" stroke-width="0.5"/>
<line x1="278.69" y1="248.30" x2="278.69" y2="249.50" stroke="#333" stroke-width="0.5"/>
<line x1="279.69" y1="248.30" x2="279.69" y2="249.50" stroke="#333" stroke-width="0.5"/>
<line x1="280.56" y1="248.30" x2="280.56" y2="249.50" stroke="#333" stroke-width="0.5"/>
<line x1="281.32" y1="248.30" x2="281.32" y2="249.50" stroke="#333" stroke-width="0.5"/>
<rect x="295.5" y="186.3" width="59.7" height="62" fill="none" stroke="#2a2a2a" stroke-width="1.1"/>
<line x1="295.50" y1="248.30" x2="295.50" y2="250.00" stroke="#333" stroke-width="0.5"/>
<line x1="299.99" y1="248.30" x2="299.99" y2="249.50" stroke="#333" stroke-width="0.5"/>
<line x1="302.61" y1="248.30" x2="302.61" y2="249.50" stroke="#333" stroke-width="0.5"/>
<line x1="304.47" y1="248.30" x2="304.47" y2="249.50" stroke="#333" stroke-width="0.5"/>
<line x1="305.91" y1="248.30" x2="305.91" y2="249.50" stroke="#333" stroke-width="0.5"/>
<line x1="307.09" y1="248.30" x2="307.09" y2="249.50" stroke="#333" stroke-width="0.5"/>
<line x1="308.09" y1="248.30" x2="308.09" y2="249.50" stroke="#333" stroke-width="0.5"/>
<line x1="308.96" y1="248.30" x2="308.96" y2="249.50" stroke="#333" stroke-width="0.5"/>
<line x1="309.72" y1="248.30" x2="309.72" y2="249.50" stroke="#333" stroke-width="0.5"/>
<line x1="310.40" y1="248.30" x2="310.40" y2="250.00" stroke="#333" stroke-width="0.5"/>
<line x1="314.89" y1="248.30" x2="314.89" y2="249.50" stroke="#333" stroke-width="0.5"/>
<line x1="317.51" y1="248.30" x2="317.51" y2="249.50" stroke="#333" stroke-width="0.5"/>
<line x1="319.37" y1="248.30" x2="319.37" y2="249.50" stroke="#333" stroke-width="0.5"/>
<line x1="320.81" y1="248.30" x2="320.81" y2="249.50" stroke="#333" stroke-width="0.5"/>
<line x1="321.99" y1="248.30" x2="321.99" y2="249.50" stroke="#333" stroke-width="0.5"/>
<line x1="322.99" y1="248.30" x2="322.99" y2="249.50" stroke="#333" stroke-width="0.5"/>
<line x1="323.86" y1="248.30" x2="323.86" y2="249.50" stroke="#333" stroke-width="0.5"/>
<line x1="324.62" y1="248.30" x2="324.62" y2="249.50" stroke="#333" stroke-width="0.5"/>
<line x1="325.30" y1="248.30" x2="325.30" y2="250.00" stroke="#333" stroke-width="0.5"/>
<line x1="329.79" y1="248.30" x2="329.79" y2="249.50" stroke="#333" stroke-width="0.5"/>
<line x1="332.41" y1="248.30" x2="332.41" y2="249.50" stroke="#333" stroke-width="0.5"/>
<line x1="334.27" y1="248.30" x2="334.27" y2="249.50" stroke="#333" stroke-width="0.5"/>
<line x1="335.71" y1="248.30" x2="335.71" y2="249.50" stroke="#333" stroke-width="0.5"/>
<line x1="336.89" y1="248.30" x2="336.89" y2="249.50" stroke="#333" stroke-width="0.5"/>
<line x1="337.89" y1="248.30" x2="337.89" y2="249.50" stroke="#333" stroke-width="0.5"/>
<line x1="338.76" y1="248.30" x2="338.76" y2="249.50" stroke="#333" stroke-width="0.5"/>
<line x1="339.52" y1="248.30" x2="339.52" y2="249.50" stroke="#333" stroke-width="0.5"/>
<line x1="340.20" y1="248.30" x2="340.20" y2="250.00" stroke="#333" stroke-width="0.5"/>
<line x1="344.69" y1="248.30" x2="344.69" y2="249.50" stroke="#333" stroke-width="0.5"/>
<line x1="347.31" y1="248.30" x2="347.31" y2="249.50" stroke="#333" stroke-width="0.5"/>
<line x1="349.17" y1="248.30" x2="349.17" y2="249.50" stroke="#333" stroke-width="0.5"/>
<line x1="350.61" y1="248.30" x2="350.61" y2="249.50" stroke="#333" stroke-width="0.5"/>
<line x1="351.79" y1="248.30" x2="351.79" y2="249.50" stroke="#333" stroke-width="0.5"/>
<line x1="352.79" y1="248.30" x2="352.79" y2="249.50" stroke="#333" stroke-width="0.5"/>
<line x1="353.66" y1="248.30" x2="353.66" y2="249.50" stroke="#333" stroke-width="0.5"/>
<line x1="354.42" y1="248.30" x2="354.42" y2="249.50" stroke="#333" stroke-width="0.5"/>
<text x="222.80" y="259.50" font-size="6.3" text-anchor="middle" fill="#2e2e2e" stroke="#2e2e2e" stroke-width="0.18">10<tspan font-size="3.91" dy="-2.6">-1</tspan></text>
<text x="237.70" y="259.50" font-size="6.3" text-anchor="middle" fill="#2e2e2e" stroke="#2e2e2e" stroke-width="0.18">10<tspan font-size="3.91" dy="-2.6">0</tspan></text>
<text x="252.60" y="259.50" font-size="6.3" text-anchor="middle" fill="#2e2e2e" stroke="#2e2e2e" stroke-width="0.18">10<tspan font-size="3.91" dy="-2.6">1</tspan></text>
<text x="267.50" y="259.50" font-size="6.3" text-anchor="middle" fill="#2e2e2e" stroke="#2e2e2e" stroke-width="0.18">10<tspan font-size="3.91" dy="-2.6">2</tspan></text>
<text x="282.40" y="259.50" font-size="6.3" text-anchor="middle" fill="#2e2e2e" stroke="#2e2e2e" stroke-width="0.18">10<tspan font-size="3.91" dy="-2.6">3</tspan></text>
<text x="295.90" y="259.50" font-size="6.3" text-anchor="middle" fill="#2e2e2e" stroke="#2e2e2e" stroke-width="0.18">10<tspan font-size="3.91" dy="-2.6">-1</tspan></text>
<text x="310.80" y="259.50" font-size="6.3" text-anchor="middle" fill="#2e2e2e" stroke="#2e2e2e" stroke-width="0.18">10<tspan font-size="3.91" dy="-2.6">0</tspan></text>
<text x="325.70" y="259.50" font-size="6.3" text-anchor="middle" fill="#2e2e2e" stroke="#2e2e2e" stroke-width="0.18">10<tspan font-size="3.91" dy="-2.6">1</tspan></text>
<text x="340.60" y="259.50" font-size="6.3" text-anchor="middle" fill="#2e2e2e" stroke="#2e2e2e" stroke-width="0.18">10<tspan font-size="3.91" dy="-2.6">2</tspan></text>
<text x="355.50" y="259.50" font-size="6.3" text-anchor="middle" fill="#2e2e2e" stroke="#2e2e2e" stroke-width="0.18">10<tspan font-size="3.91" dy="-2.6">3</tspan></text>
<line x1="220.30" y1="267.20" x2="258.00" y2="267.20" stroke="#333" stroke-width="0.8"/>
<path d="M260.6,267.2 L257.0,265.6 L257.0,268.8 Z" fill="#333"/>
<line x1="296.60" y1="267.30" x2="332.00" y2="267.30" stroke="#333" stroke-width="0.8"/>
<path d="M334.8,267.3 L331.2,265.7 L331.2,268.9 Z" fill="#333"/>
<text x="264.20" y="269.20" font-size="10.3" text-anchor="start" fill="#2e2e2e" stroke="#2e2e2e" stroke-width="0.18" textLength="17" lengthAdjust="spacingAndGlyphs">EZH2</text>
<text x="338.10" y="269.10" font-size="10.3" text-anchor="start" fill="#2e2e2e" stroke="#2e2e2e" stroke-width="0.18" textLength="20.2" lengthAdjust="spacingAndGlyphs">MYCN</text>
<text x="382.00" y="161.60" font-size="10.5" text-anchor="start" fill="#111" font-weight="bold" stroke="#111" stroke-width="0.45">G</text>
<circle cx="428.60" cy="157.30" r="3.0" fill="#c8c8c8" stroke="none" stroke-width="0"/>
<text x="434.70" y="160.20" font-size="8" text-anchor="start" fill="#2e2e2e" stroke="#2e2e2e" stroke-width="0.18" textLength="22.2" lengthAdjust="spacingAndGlyphs">DMSO</text>
<circle cx="468.80" cy="157.30" r="3.0" fill="#e8c030" stroke="none" stroke-width="0"/>
<text x="474.50" y="160.20" font-size="8" text-anchor="start" fill="#2e2e2e" stroke="#2e2e2e" stroke-width="0.18" textLength="28.1" lengthAdjust="spacingAndGlyphs">Ro-3306</text>
<line x1="414.60" y1="171.30" x2="414.60" y2="267.40" stroke="#231f20" stroke-width="1.1"/>
<line x1="414.10" y1="266.90" x2="518.00" y2="266.90" stroke="#231f20" stroke-width="1.1"/>
<line x1="412.20" y1="171.92" x2="414.60" y2="171.92" stroke="#231f20" stroke-width="1"/>
<text x="407.80" y="174.82" font-size="8.2" text-anchor="end" fill="#2e2e2e" stroke="#2e2e2e" stroke-width="0.18" textLength="10.2" lengthAdjust="spacingAndGlyphs">1.2</text>
<line x1="412.20" y1="187.75" x2="414.60" y2="187.75" stroke="#231f20" stroke-width="1"/>
<text x="407.80" y="190.65" font-size="8.2" text-anchor="end" fill="#2e2e2e" stroke="#2e2e2e" stroke-width="0.18" textLength="10.2" lengthAdjust="spacingAndGlyphs">1.1</text>
<line x1="412.20" y1="203.58" x2="414.60" y2="203.58" stroke="#231f20" stroke-width="1"/>
<text x="407.80" y="206.48" font-size="8.2" text-anchor="end" fill="#2e2e2e" stroke="#2e2e2e" stroke-width="0.18" textLength="10.2" lengthAdjust="spacingAndGlyphs">1.0</text>
<line x1="412.20" y1="219.41" x2="414.60" y2="219.41" stroke="#231f20" stroke-width="1"/>
<text x="407.80" y="222.31" font-size="8.2" text-anchor="end" fill="#2e2e2e" stroke="#2e2e2e" stroke-width="0.18" textLength="10.2" lengthAdjust="spacingAndGlyphs">0.9</text>
<line x1="412.20" y1="235.24" x2="414.60" y2="235.24" stroke="#231f20" stroke-width="1"/>
<text x="407.80" y="238.14" font-size="8.2" text-anchor="end" fill="#2e2e2e" stroke="#2e2e2e" stroke-width="0.18" textLength="10.2" lengthAdjust="spacingAndGlyphs">0.8</text>
<line x1="412.20" y1="251.07" x2="414.60" y2="251.07" stroke="#231f20" stroke-width="1"/>
<text x="407.80" y="253.97" font-size="8.2" text-anchor="end" fill="#2e2e2e" stroke="#2e2e2e" stroke-width="0.18" textLength="10.2" lengthAdjust="spacingAndGlyphs">0.7</text>
<line x1="412.20" y1="266.90" x2="414.60" y2="266.90" stroke="#231f20" stroke-width="1"/>
<text x="407.80" y="269.80" font-size="8.2" text-anchor="end" fill="#2e2e2e" stroke="#2e2e2e" stroke-width="0.18" textLength="10.2" lengthAdjust="spacingAndGlyphs">0.6</text>
<text x="391.30" y="220.00" font-size="9.4" text-anchor="middle" fill="#2e2e2e" stroke="#2e2e2e" stroke-width="0.18" textLength="98" lengthAdjust="spacingAndGlyphs" transform="rotate(-90 391.30 220.00)">Fold change relative to DMSO</text>
<rect x="418.90" y="203.58" width="9.20" height="63.32" fill="#dcdcdc" stroke="none" stroke-width="0" opacity="1"/>
<rect x="432.10" y="232.87" width="9.20" height="34.03" fill="#ebc95a" stroke="none" stroke-width="0" opacity="1"/>
<text x="430.10" y="280.00" font-size="8.2" text-anchor="middle" fill="#2e2e2e" stroke="#2e2e2e" stroke-width="0.18" font-style="italic">Myb</text>
<rect x="453.90" y="203.58" width="9.20" height="63.32" fill="#dcdcdc" stroke="none" stroke-width="0" opacity="1"/>
<rect x="466.90" y="228.12" width="9.20" height="38.78" fill="#ebc95a" stroke="none" stroke-width="0" opacity="1"/>
<text x="465.40" y="280.00" font-size="8.2" text-anchor="middle" fill="#2e2e2e" stroke="#2e2e2e" stroke-width="0.18" font-style="italic">Ezh2</text>
<rect x="489.20" y="203.58" width="9.20" height="63.32" fill="#dcdcdc" stroke="none" stroke-width="0" opacity="1"/>
<rect x="502.40" y="250.28" width="9.20" height="16.62" fill="#ebc95a" stroke="none" stroke-width="0" opacity="1"/>
<text x="500.50" y="280.00" font-size="8.2" text-anchor="middle" fill="#2e2e2e" stroke="#2e2e2e" stroke-width="0.18" font-style="italic">Cdk6</text>
<line x1="423.50" y1="194.08" x2="423.50" y2="213.08" stroke="#333" stroke-width="0.9"/>
<line x1="421.20" y1="194.08" x2="425.80" y2="194.08" stroke="#333" stroke-width="0.9"/>
<line x1="421.20" y1="213.08" x2="425.80" y2="213.08" stroke="#333" stroke-width="0.9"/>
<circle cx="423.50" cy="194.08" r="1.6" fill="#c4c4c4" stroke="none" stroke-width="0"/>
<circle cx="422.00" cy="203.58" r="1.6" fill="#c4c4c4" stroke="none" stroke-width="0"/>
<circle cx="425.00" cy="211.49" r="1.6" fill="#c4c4c4" stroke="none" stroke-width="0"/>
<line x1="458.50" y1="190.92" x2="458.50" y2="215.45" stroke="#333" stroke-width="0.9"/>
<line x1="456.20" y1="190.92" x2="460.80" y2="190.92" stroke="#333" stroke-width="0.9"/>
<line x1="456.20" y1="215.45" x2="460.80" y2="215.45" stroke="#333" stroke-width="0.9"/>
<circle cx="458.50" cy="190.92" r="1.6" fill="#c4c4c4" stroke="none" stroke-width="0"/>
<circle cx="457.00" cy="203.58" r="1.6" fill="#c4c4c4" stroke="none" stroke-width="0"/>
<circle cx="460.00" cy="213.87" r="1.6" fill="#c4c4c4" stroke="none" stroke-width="0"/>
<line x1="493.80" y1="192.50" x2="493.80" y2="214.66" stroke="#333" stroke-width="0.9"/>
<line x1="491.50" y1="192.50" x2="496.10" y2="192.50" stroke="#333" stroke-width="0.9"/>
<line x1="491.50" y1="214.66" x2="496.10" y2="214.66" stroke="#333" stroke-width="0.9"/>
<circle cx="493.80" cy="192.50" r="1.6" fill="#c4c4c4" stroke="none" stroke-width="0"/>
<circle cx="492.30" cy="203.58" r="1.6" fill="#c4c4c4" stroke="none" stroke-width="0"/>
<circle cx="495.30" cy="213.08" r="1.6" fill="#c4c4c4" stroke="none" stroke-width="0"/>
<line x1="436.70" y1="229.70" x2="436.70" y2="236.03" stroke="#333" stroke-width="0.9"/>
<line x1="435.10" y1="229.70" x2="438.30" y2="229.70" stroke="#333" stroke-width="0.9"/>
<line x1="435.10" y1="236.03" x2="438.30" y2="236.03" stroke="#333" stroke-width="0.9"/>
<circle cx="435.10" cy="228.91" r="1.5" fill="#d8ae16" stroke="none" stroke-width="0"/>
<circle cx="438.30" cy="232.87" r="1.5" fill="#d8ae16" stroke="none" stroke-width="0"/>
<circle cx="435.50" cy="235.24" r="1.5" fill="#d8ae16" stroke="none" stroke-width="0"/>
<line x1="471.50" y1="224.95" x2="471.50" y2="231.28" stroke="#333" stroke-width="0.9"/>
<line x1="469.90" y1="224.95" x2="473.10" y2="224.95" stroke="#333" stroke-width="0.9"/>
<line x1="469.90" y1="231.28" x2="473.10" y2="231.28" stroke="#333" stroke-width="0.9"/>
<circle cx="469.90" cy="224.16" r="1.5" fill="#d8ae16" stroke="none" stroke-width="0"/>
<circle cx="473.10" cy="228.12" r="1.5" fill="#d8ae16" stroke="none" stroke-width="0"/>
<circle cx="470.30" cy="230.49" r="1.5" fill="#d8ae16" stroke="none" stroke-width="0"/>
<line x1="507.00" y1="247.11" x2="507.00" y2="253.44" stroke="#333" stroke-width="0.9"/>
<line x1="505.40" y1="247.11" x2="508.60" y2="247.11" stroke="#333" stroke-width="0.9"/>
<line x1="505.40" y1="253.44" x2="508.60" y2="253.44" stroke="#333" stroke-width="0.9"/>
<circle cx="505.40" cy="246.32" r="1.5" fill="#d8ae16" stroke="none" stroke-width="0"/>
<circle cx="508.60" cy="250.28" r="1.5" fill="#d8ae16" stroke="none" stroke-width="0"/>
<circle cx="505.80" cy="252.65" r="1.5" fill="#d8ae16" stroke="none" stroke-width="0"/>
<line x1="423.70" y1="176.30" x2="437.00" y2="176.30" stroke="#222" stroke-width="0.9"/>
<circle cx="428.55" cy="172.70" r="1.0" fill="#2a2a2a" stroke="none" stroke-width="0"/>
<circle cx="432.15" cy="172.70" r="1.0" fill="#2a2a2a" stroke="none" stroke-width="0"/>
<line x1="458.20" y1="176.30" x2="471.70" y2="176.30" stroke="#222" stroke-width="0.9"/>
<circle cx="464.95" cy="172.70" r="1.0" fill="#2a2a2a" stroke="none" stroke-width="0"/>
<line x1="495.60" y1="176.30" x2="509.00" y2="176.30" stroke="#222" stroke-width="0.9"/>
<circle cx="500.50" cy="172.70" r="1.0" fill="#2a2a2a" stroke="none" stroke-width="0"/>
<circle cx="504.10" cy="172.70" r="1.0" fill="#2a2a2a" stroke="none" stroke-width="0"/>
<text x="1.00" y="313.50" font-size="10.5" text-anchor="start" fill="#111" font-weight="bold" stroke="#111" stroke-width="0.45">H</text>
<circle cx="58.90" cy="320.20" r="2.9" fill="#c8c8c8" stroke="none" stroke-width="0"/>
<text x="64.80" y="323.10" font-size="8" text-anchor="start" fill="#2e2e2e" stroke="#2e2e2e" stroke-width="0.18" textLength="22.9" lengthAdjust="spacingAndGlyphs">DMSO</text>
<circle cx="98.70" cy="320.20" r="2.9" fill="#955f2e" stroke="none" stroke-width="0"/>
<text x="104.60" y="323.10" font-size="8" text-anchor="start" fill="#2e2e2e" stroke="#2e2e2e" stroke-width="0.18" textLength="43.8" lengthAdjust="spacingAndGlyphs">BMS-265246</text>
<circle cx="87.00" cy="332.10" r="2.9" fill="#e3bd22" stroke="none" stroke-width="0"/>
<text x="92.90" y="335.00" font-size="8" text-anchor="start" fill="#2e2e2e" stroke="#2e2e2e" stroke-width="0.18" textLength="28" lengthAdjust="spacingAndGlyphs">Ro-3306</text>
<line x1="40.20" y1="339.80" x2="40.20" y2="430.90" stroke="#231f20" stroke-width="1.1"/>
<line x1="39.70" y1="430.40" x2="160.00" y2="430.40" stroke="#231f20" stroke-width="1.1"/>
<line x1="37.80" y1="339.90" x2="40.20" y2="339.90" stroke="#231f20" stroke-width="1"/>
<text x="34.50" y="342.70" font-size="7.8" text-anchor="end" fill="#2e2e2e" stroke="#2e2e2e" stroke-width="0.18" textLength="15.3" lengthAdjust="spacingAndGlyphs">1.25</text>
<line x1="37.80" y1="358.00" x2="40.20" y2="358.00" stroke="#231f20" stroke-width="1"/>
<text x="34.50" y="360.80" font-size="7.8" text-anchor="end" fill="#2e2e2e" stroke="#2e2e2e" stroke-width="0.18" textLength="15.3" lengthAdjust="spacingAndGlyphs">1.00</text>
<line x1="37.80" y1="376.10" x2="40.20" y2="376.10" stroke="#231f20" stroke-width="1"/>
<text x="34.50" y="378.90" font-size="7.8" text-anchor="end" fill="#2e2e2e" stroke="#2e2e2e" stroke-width="0.18" textLength="15.3" lengthAdjust="spacingAndGlyphs">0.75</text>
<line x1="37.80" y1="394.20" x2="40.20" y2="394.20" stroke="#231f20" stroke-width="1"/>
<text x="34.50" y="397.00" font-size="7.8" text-anchor="end" fill="#2e2e2e" stroke="#2e2e2e" stroke-width="0.18" textLength="15.3" lengthAdjust="spacingAndGlyphs">0.50</text>
<line x1="37.80" y1="412.30" x2="40.20" y2="412.30" stroke="#231f20" stroke-width="1"/>
<text x="34.50" y="415.10" font-size="7.8" text-anchor="end" fill="#2e2e2e" stroke="#2e2e2e" stroke-width="0.18" textLength="15.3" lengthAdjust="spacingAndGlyphs">0.25</text>
<line x1="37.80" y1="430.40" x2="40.20" y2="430.40" stroke="#231f20" stroke-width="1"/>
<text x="34.50" y="433.20" font-size="7.8" text-anchor="end" fill="#2e2e2e" stroke="#2e2e2e" stroke-width="0.18" textLength="15.3" lengthAdjust="spacingAndGlyphs">0.00</text>
<text x="13.00" y="386.00" font-size="9.4" text-anchor="middle" fill="#2e2e2e" stroke="#2e2e2e" stroke-width="0.18" textLength="98" lengthAdjust="spacingAndGlyphs" transform="rotate(-90 13.00 386.00)">Fold change relative to DMSO</text>
<rect x="42.20" y="358.00" width="4.40" height="72.40" fill="#d9d9d9" stroke="none" stroke-width="0" opacity="1"/>
<rect x="47.80" y="394.20" width="4.40" height="36.20" fill="#b0784a" stroke="none" stroke-width="0" opacity="1"/>
<rect x="54.00" y="379.72" width="4.40" height="50.68" fill="#efd073" stroke="none" stroke-width="0" opacity="1"/>
<circle cx="44.40" cy="356.55" r="1.3" fill="#bdbdbd" stroke="none" stroke-width="0"/>
<circle cx="50.00" cy="393.48" r="1.5" fill="#7a4a24" stroke="none" stroke-width="0"/>
<circle cx="56.20" cy="379.72" r="1.4" fill="#d8b41e" stroke="none" stroke-width="0"/>
<circle cx="56.20" cy="375.38" r="1.2" fill="#d8b41e" stroke="none" stroke-width="0"/>
<line x1="56.20" y1="375.38" x2="56.20" y2="379.72" stroke="#c9a520" stroke-width="0.7"/>
<line x1="50.00" y1="430.40" x2="50.00" y2="432.70" stroke="#231f20" stroke-width="1"/>
<text x="51.00" y="439.30" font-size="8.2" text-anchor="end" fill="#2e2e2e" stroke="#2e2e2e" stroke-width="0.18" font-style="italic" textLength="24.5" lengthAdjust="spacingAndGlyphs" transform="rotate(-45 51.00 439.30)">AURKA</text>
<rect x="63.40" y="358.00" width="4.40" height="72.40" fill="#d9d9d9" stroke="none" stroke-width="0" opacity="1"/>
<rect x="69.00" y="389.86" width="4.40" height="40.54" fill="#b0784a" stroke="none" stroke-width="0" opacity="1"/>
<rect x="75.20" y="371.03" width="4.40" height="59.37" fill="#efd073" stroke="none" stroke-width="0" opacity="1"/>
<circle cx="65.60" cy="356.55" r="1.3" fill="#bdbdbd" stroke="none" stroke-width="0"/>
<line x1="65.60" y1="353.66" x2="65.60" y2="360.90" stroke="#9a9a9a" stroke-width="0.7"/>
<circle cx="65.60" cy="353.66" r="1.2" fill="#b0b0b0" stroke="none" stroke-width="0"/>
<circle cx="71.20" cy="389.13" r="1.5" fill="#7a4a24" stroke="none" stroke-width="0"/>
<circle cx="77.40" cy="371.03" r="1.4" fill="#d8b41e" stroke="none" stroke-width="0"/>
<circle cx="77.40" cy="369.58" r="1.2" fill="#d8b41e" stroke="none" stroke-width="0"/>
<line x1="77.40" y1="369.58" x2="77.40" y2="371.03" stroke="#c9a520" stroke-width="0.7"/>
<line x1="71.20" y1="430.40" x2="71.20" y2="432.70" stroke="#231f20" stroke-width="1"/>
<text x="72.20" y="439.30" font-size="8.2" text-anchor="end" fill="#2e2e2e" stroke="#2e2e2e" stroke-width="0.18" font-style="italic" textLength="24.5" lengthAdjust="spacingAndGlyphs" transform="rotate(-45 72.20 439.30)">AURKB</text>
<rect x="84.60" y="358.00" width="4.40" height="72.40" fill="#d9d9d9" stroke="none" stroke-width="0" opacity="1"/>
<rect x="90.20" y="381.89" width="4.40" height="48.51" fill="#b0784a" stroke="none" stroke-width="0" opacity="1"/>
<rect x="96.40" y="381.17" width="4.40" height="49.23" fill="#efd073" stroke="none" stroke-width="0" opacity="1"/>
<circle cx="86.80" cy="356.55" r="1.3" fill="#bdbdbd" stroke="none" stroke-width="0"/>
<circle cx="92.40" cy="381.17" r="1.5" fill="#7a4a24" stroke="none" stroke-width="0"/>
<circle cx="98.60" cy="381.17" r="1.4" fill="#d8b41e" stroke="none" stroke-width="0"/>
<circle cx="98.60" cy="381.17" r="1.2" fill="#d8b41e" stroke="none" stroke-width="0"/>
<line x1="98.60" y1="381.17" x2="98.60" y2="381.17" stroke="#c9a520" stroke-width="0.7"/>
<line x1="92.40" y1="430.40" x2="92.40" y2="432.70" stroke="#231f20" stroke-width="1"/>
<text x="93.40" y="439.30" font-size="8.2" text-anchor="end" fill="#2e2e2e" stroke="#2e2e2e" stroke-width="0.18" font-style="italic" textLength="15.5" lengthAdjust="spacingAndGlyphs" transform="rotate(-45 93.40 439.30)">MYB</text>
<rect x="105.80" y="358.00" width="4.40" height="72.40" fill="#d9d9d9" stroke="none" stroke-width="0" opacity="1"/>
<rect x="111.40" y="391.30" width="4.40" height="39.10" fill="#b0784a" stroke="none" stroke-width="0" opacity="1"/>
<rect x="117.60" y="365.24" width="4.40" height="65.16" fill="#efd073" stroke="none" stroke-width="0" opacity="1"/>
<circle cx="108.00" cy="356.55" r="1.3" fill="#bdbdbd" stroke="none" stroke-width="0"/>
<line x1="108.00" y1="353.66" x2="108.00" y2="360.90" stroke="#9a9a9a" stroke-width="0.7"/>
<circle cx="108.00" cy="353.66" r="1.2" fill="#b0b0b0" stroke="none" stroke-width="0"/>
<circle cx="113.60" cy="390.58" r="1.5" fill="#7a4a24" stroke="none" stroke-width="0"/>
<circle cx="119.80" cy="365.24" r="1.4" fill="#d8b41e" stroke="none" stroke-width="0"/>
<circle cx="119.80" cy="356.55" r="1.2" fill="#d8b41e" stroke="none" stroke-width="0"/>
<line x1="119.80" y1="356.55" x2="119.80" y2="365.24" stroke="#c9a520" stroke-width="0.7"/>
<line x1="113.60" y1="430.40" x2="113.60" y2="432.70" stroke="#231f20" stroke-width="1"/>
<text x="114.60" y="439.30" font-size="8.2" text-anchor="end" fill="#2e2e2e" stroke="#2e2e2e" stroke-width="0.18" font-style="italic" textLength="17.5" lengthAdjust="spacingAndGlyphs" transform="rotate(-45 114.60 439.30)">EZH2</text>
<rect x="127.00" y="358.00" width="4.40" height="72.40" fill="#d9d9d9" stroke="none" stroke-width="0" opacity="1"/>
<rect x="132.60" y="384.79" width="4.40" height="45.61" fill="#b0784a" stroke="none" stroke-width="0" opacity="1"/>
<rect x="138.80" y="371.03" width="4.40" height="59.37" fill="#efd073" stroke="none" stroke-width="0" opacity="1"/>
<circle cx="129.20" cy="356.55" r="1.3" fill="#bdbdbd" stroke="none" stroke-width="0"/>
<line x1="129.20" y1="353.66" x2="129.20" y2="360.90" stroke="#9a9a9a" stroke-width="0.7"/>
<circle cx="129.20" cy="353.66" r="1.2" fill="#b0b0b0" stroke="none" stroke-width="0"/>
<circle cx="134.80" cy="384.06" r="1.5" fill="#7a4a24" stroke="none" stroke-width="0"/>
<circle cx="141.00" cy="371.03" r="1.4" fill="#d8b41e" stroke="none" stroke-width="0"/>
<circle cx="141.00" cy="365.24" r="1.2" fill="#d8b41e" stroke="none" stroke-width="0"/>
<line x1="141.00" y1="365.24" x2="141.00" y2="371.03" stroke="#c9a520" stroke-width="0.7"/>
<line x1="134.80" y1="430.40" x2="134.80" y2="432.70" stroke="#231f20" stroke-width="1"/>
<text x="135.80" y="439.30" font-size="8.2" text-anchor="end" fill="#2e2e2e" stroke="#2e2e2e" stroke-width="0.18" font-style="italic" textLength="18" lengthAdjust="spacingAndGlyphs" transform="rotate(-45 135.80 439.30)">CDK6</text>
<rect x="148.20" y="358.00" width="4.40" height="72.40" fill="#d9d9d9" stroke="none" stroke-width="0" opacity="1"/>
<rect x="153.80" y="379.72" width="4.40" height="50.68" fill="#b0784a" stroke="none" stroke-width="0" opacity="1"/>
<rect x="160.00" y="363.79" width="4.40" height="66.61" fill="#efd073" stroke="none" stroke-width="0" opacity="1"/>
<circle cx="150.40" cy="356.55" r="1.3" fill="#bdbdbd" stroke="none" stroke-width="0"/>
<line x1="150.40" y1="353.66" x2="150.40" y2="360.90" stroke="#9a9a9a" stroke-width="0.7"/>
<circle cx="150.40" cy="353.66" r="1.2" fill="#b0b0b0" stroke="none" stroke-width="0"/>
<circle cx="156.00" cy="379.00" r="1.5" fill="#7a4a24" stroke="none" stroke-width="0"/>
<circle cx="162.20" cy="363.79" r="1.4" fill="#d8b41e" stroke="none" stroke-width="0"/>
<circle cx="162.20" cy="360.17" r="1.2" fill="#d8b41e" stroke="none" stroke-width="0"/>
<line x1="162.20" y1="360.17" x2="162.20" y2="363.79" stroke="#c9a520" stroke-width="0.7"/>
<line x1="156.00" y1="430.40" x2="156.00" y2="432.70" stroke="#231f20" stroke-width="1"/>
<text x="157.00" y="439.30" font-size="8.2" text-anchor="end" fill="#2e2e2e" stroke="#2e2e2e" stroke-width="0.18" font-style="italic" textLength="25" lengthAdjust="spacingAndGlyphs" transform="rotate(-45 157.00 439.30)">FOXM1</text>
<text x="180.40" y="313.30" font-size="10.5" text-anchor="start" fill="#111" font-weight="bold" stroke="#111" stroke-width="0.45">I</text>
<line x1="223.60" y1="363.60" x2="223.60" y2="430.50" stroke="#231f20" stroke-width="1.1"/>
<line x1="223.10" y1="430.00" x2="363.00" y2="430.00" stroke="#231f20" stroke-width="1.1"/>
<line x1="221.20" y1="364.30" x2="223.60" y2="364.30" stroke="#231f20" stroke-width="1"/>
<text x="219.80" y="367.10" font-size="7.8" text-anchor="end" fill="#2e2e2e" stroke="#2e2e2e" stroke-width="0.18">125</text>
<line x1="221.20" y1="377.44" x2="223.60" y2="377.44" stroke="#231f20" stroke-width="1"/>
<text x="219.80" y="380.24" font-size="7.8" text-anchor="end" fill="#2e2e2e" stroke="#2e2e2e" stroke-width="0.18">100</text>
<line x1="221.20" y1="390.58" x2="223.60" y2="390.58" stroke="#231f20" stroke-width="1"/>
<text x="219.80" y="393.38" font-size="7.8" text-anchor="end" fill="#2e2e2e" stroke="#2e2e2e" stroke-width="0.18">75</text>
<line x1="221.20" y1="403.72" x2="223.60" y2="403.72" stroke="#231f20" stroke-width="1"/>
<text x="219.80" y="406.52" font-size="7.8" text-anchor="end" fill="#2e2e2e" stroke="#2e2e2e" stroke-width="0.18">50</text>
<line x1="221.20" y1="416.86" x2="223.60" y2="416.86" stroke="#231f20" stroke-width="1"/>
<text x="219.80" y="419.66" font-size="7.8" text-anchor="end" fill="#2e2e2e" stroke="#2e2e2e" stroke-width="0.18">25</text>
<line x1="221.20" y1="430.00" x2="223.60" y2="430.00" stroke="#231f20" stroke-width="1"/>
<text x="219.80" y="432.80" font-size="7.8" text-anchor="end" fill="#2e2e2e" stroke="#2e2e2e" stroke-width="0.18">0</text>
<text x="188.80" y="398.00" font-size="8.4" text-anchor="middle" fill="#2e2e2e" stroke="#2e2e2e" stroke-width="0.18" textLength="28" lengthAdjust="spacingAndGlyphs" transform="rotate(-90 188.80 398.00)">Viability</text>
<text x="199.60" y="397.30" font-size="8.4" text-anchor="middle" fill="#2e2e2e" stroke="#2e2e2e" stroke-width="0.18" textLength="70" lengthAdjust="spacingAndGlyphs" transform="rotate(-90 199.60 397.30)">relative to DMSO (%)</text>
<rect x="233.80" y="377.84" width="16.40" height="52.16" fill="#dcdcdc" stroke="#d2d2d2" stroke-width="0.8" opacity="1"/>
<line x1="242.00" y1="372.18" x2="242.00" y2="382.70" stroke="#333" stroke-width="0.9"/>
<line x1="239.40" y1="372.18" x2="244.60" y2="372.18" stroke="#333" stroke-width="0.9"/>
<line x1="239.40" y1="382.70" x2="244.60" y2="382.70" stroke="#333" stroke-width="0.9"/>
<circle cx="239.50" cy="373.24" r="1.5" fill="#aaaaaa" stroke="none" stroke-width="0"/>
<circle cx="244.50" cy="377.44" r="1.5" fill="#aaaaaa" stroke="none" stroke-width="0"/>
<circle cx="242.00" cy="381.12" r="1.5" fill="#aaaaaa" stroke="none" stroke-width="0"/>
<line x1="242.00" y1="430.00" x2="242.00" y2="432.30" stroke="#231f20" stroke-width="1"/>
<rect x="259.70" y="410.95" width="16.40" height="19.05" fill="#f2dc8c" stroke="#e9cb66" stroke-width="0.8" opacity="1"/>
<line x1="267.90" y1="407.40" x2="267.90" y2="413.71" stroke="#333" stroke-width="0.9"/>
<line x1="265.30" y1="407.40" x2="270.50" y2="407.40" stroke="#333" stroke-width="0.9"/>
<line x1="265.30" y1="413.71" x2="270.50" y2="413.71" stroke="#333" stroke-width="0.9"/>
<circle cx="265.40" cy="408.03" r="1.5" fill="#c9a520" stroke="none" stroke-width="0"/>
<circle cx="270.40" cy="410.55" r="1.5" fill="#c9a520" stroke="none" stroke-width="0"/>
<circle cx="267.90" cy="412.76" r="1.5" fill="#c9a520" stroke="none" stroke-width="0"/>
<line x1="267.90" y1="430.00" x2="267.90" y2="432.30" stroke="#231f20" stroke-width="1"/>
<rect x="285.70" y="404.12" width="16.40" height="25.88" fill="#b8874c" stroke="#a87a42" stroke-width="0.8" opacity="1"/>
<line x1="293.90" y1="402.14" x2="293.90" y2="405.30" stroke="#333" stroke-width="0.9"/>
<line x1="291.30" y1="402.14" x2="296.50" y2="402.14" stroke="#333" stroke-width="0.9"/>
<line x1="291.30" y1="405.30" x2="296.50" y2="405.30" stroke="#333" stroke-width="0.9"/>
<circle cx="291.40" cy="402.46" r="1.5" fill="#7a4a24" stroke="none" stroke-width="0"/>
<circle cx="296.40" cy="403.72" r="1.5" fill="#7a4a24" stroke="none" stroke-width="0"/>
<circle cx="293.90" cy="404.82" r="1.5" fill="#7a4a24" stroke="none" stroke-width="0"/>
<line x1="293.90" y1="430.00" x2="293.90" y2="432.30" stroke="#231f20" stroke-width="1"/>
<rect x="312.20" y="425.67" width="16.40" height="4.33" fill="#f2dc8c" stroke="#e9cb66" stroke-width="0.8" opacity="1"/>
<line x1="320.40" y1="422.12" x2="320.40" y2="428.42" stroke="#333" stroke-width="0.9"/>
<line x1="317.80" y1="422.12" x2="323.00" y2="422.12" stroke="#333" stroke-width="0.9"/>
<line x1="317.80" y1="428.42" x2="323.00" y2="428.42" stroke="#333" stroke-width="0.9"/>
<circle cx="317.90" cy="422.75" r="1.5" fill="#c9a520" stroke="none" stroke-width="0"/>
<circle cx="322.90" cy="425.27" r="1.5" fill="#c9a520" stroke="none" stroke-width="0"/>
<circle cx="320.40" cy="427.48" r="1.5" fill="#c9a520" stroke="none" stroke-width="0"/>
<line x1="320.40" y1="430.00" x2="320.40" y2="432.30" stroke="#231f20" stroke-width="1"/>
<rect x="338.30" y="409.38" width="16.40" height="20.62" fill="#b8874c" stroke="#a87a42" stroke-width="0.8" opacity="1"/>
<line x1="346.50" y1="406.35" x2="346.50" y2="411.60" stroke="#333" stroke-width="0.9"/>
<line x1="343.90" y1="406.35" x2="349.10" y2="406.35" stroke="#333" stroke-width="0.9"/>
<line x1="343.90" y1="411.60" x2="349.10" y2="411.60" stroke="#333" stroke-width="0.9"/>
<circle cx="344.00" cy="406.87" r="1.5" fill="#7a4a24" stroke="none" stroke-width="0"/>
<circle cx="349.00" cy="408.98" r="1.5" fill="#7a4a24" stroke="none" stroke-width="0"/>
<circle cx="346.50" cy="410.82" r="1.5" fill="#7a4a24" stroke="none" stroke-width="0"/>
<line x1="346.50" y1="430.00" x2="346.50" y2="432.30" stroke="#231f20" stroke-width="1"/>
<path d="M241.7,336.10 L241.7,325.60 L346.5,325.60 L346.5,405.30" fill="none" stroke="#444" stroke-width="0.9"/>
<circle cx="296.45" cy="321.80" r="1.05" fill="#2a2a2a" stroke="none" stroke-width="0"/>
<circle cx="299.75" cy="321.80" r="1.05" fill="#2a2a2a" stroke="none" stroke-width="0"/>
<circle cx="303.05" cy="321.80" r="1.05" fill="#2a2a2a" stroke="none" stroke-width="0"/>
<circle cx="306.35" cy="321.80" r="1.05" fill="#2a2a2a" stroke="none" stroke-width="0"/>
<path d="M241.7,349.30 L241.7,338.80 L320.4,338.80 L320.4,421.06" fill="none" stroke="#444" stroke-width="0.9"/>
<circle cx="280.25" cy="335.00" r="1.05" fill="#2a2a2a" stroke="none" stroke-width="0"/>
<circle cx="283.55" cy="335.00" r="1.05" fill="#2a2a2a" stroke="none" stroke-width="0"/>
<circle cx="286.85" cy="335.00" r="1.05" fill="#2a2a2a" stroke="none" stroke-width="0"/>
<circle cx="290.15" cy="335.00" r="1.05" fill="#2a2a2a" stroke="none" stroke-width="0"/>
<path d="M241.7,362.20 L241.7,351.70 L293.9,351.70 L293.9,400.57" fill="none" stroke="#444" stroke-width="0.9"/>
<circle cx="265.45" cy="347.90" r="1.05" fill="#2a2a2a" stroke="none" stroke-width="0"/>
<circle cx="268.75" cy="347.90" r="1.05" fill="#2a2a2a" stroke="none" stroke-width="0"/>
<circle cx="272.05" cy="347.90" r="1.05" fill="#2a2a2a" stroke="none" stroke-width="0"/>
<circle cx="275.35" cy="347.90" r="1.05" fill="#2a2a2a" stroke="none" stroke-width="0"/>
<path d="M241.7,375.20 L241.7,364.70 L267.9,364.70 L267.9,406.35" fill="none" stroke="#444" stroke-width="0.9"/>
<circle cx="251.95" cy="360.90" r="1.05" fill="#2a2a2a" stroke="none" stroke-width="0"/>
<circle cx="255.25" cy="360.90" r="1.05" fill="#2a2a2a" stroke="none" stroke-width="0"/>
<circle cx="258.55" cy="360.90" r="1.05" fill="#2a2a2a" stroke="none" stroke-width="0"/>
<circle cx="261.85" cy="360.90" r="1.05" fill="#2a2a2a" stroke="none" stroke-width="0"/>
<text x="229.80" y="444.60" font-size="8" text-anchor="end" fill="#2e2e2e" stroke="#2e2e2e" stroke-width="0.18" textLength="29.8" lengthAdjust="spacingAndGlyphs">Ro-3306</text>
<text x="229.80" y="456.00" font-size="8" text-anchor="end" fill="#2e2e2e" stroke="#2e2e2e" stroke-width="0.18" textLength="46.3" lengthAdjust="spacingAndGlyphs">BMS-265246</text>
<line x1="240.40" y1="442.50" x2="243.60" y2="442.50" stroke="#333" stroke-width="0.8"/>
<line x1="240.40" y1="453.90" x2="243.60" y2="453.90" stroke="#333" stroke-width="0.8"/>
<line x1="265.90" y1="442.40" x2="269.90" y2="442.40" stroke="#333" stroke-width="0.8"/>
<line x1="267.90" y1="440.40" x2="267.90" y2="444.40" stroke="#333" stroke-width="0.8"/>
<line x1="266.30" y1="453.90" x2="269.50" y2="453.90" stroke="#333" stroke-width="0.8"/>
<line x1="292.30" y1="442.50" x2="295.50" y2="442.50" stroke="#333" stroke-width="0.8"/>
<line x1="291.90" y1="453.80" x2="295.90" y2="453.80" stroke="#333" stroke-width="0.8"/>
<line x1="293.90" y1="451.80" x2="293.90" y2="455.80" stroke="#333" stroke-width="0.8"/>
<line x1="318.40" y1="442.40" x2="322.40" y2="442.40" stroke="#333" stroke-width="0.8"/>
<line x1="320.40" y1="440.40" x2="320.40" y2="444.40" stroke="#333" stroke-width="0.8"/>
<line x1="318.80" y1="453.90" x2="322.00" y2="453.90" stroke="#333" stroke-width="0.8"/>
<line x1="344.90" y1="442.50" x2="348.10" y2="442.50" stroke="#333" stroke-width="0.8"/>
<line x1="344.50" y1="453.80" x2="348.50" y2="453.80" stroke="#333" stroke-width="0.8"/>
<line x1="346.50" y1="451.80" x2="346.50" y2="455.80" stroke="#333" stroke-width="0.8"/>
<line x1="259.20" y1="461.40" x2="302.50" y2="461.40" stroke="#333" stroke-width="0.9"/>
<line x1="311.80" y1="461.40" x2="355.00" y2="461.40" stroke="#333" stroke-width="0.9"/>
<text x="280.70" y="470.20" font-size="8" text-anchor="middle" fill="#2e2e2e" stroke="#2e2e2e" stroke-width="0.18">24h</text>
<text x="333.60" y="470.20" font-size="8" text-anchor="middle" fill="#2e2e2e" stroke="#2e2e2e" stroke-width="0.18">48h</text>
<text x="378.70" y="313.70" font-size="10.5" text-anchor="start" fill="#111" font-weight="bold" stroke="#111" stroke-width="0.45">J</text>
<line x1="412.70" y1="356.80" x2="412.70" y2="430.70" stroke="#231f20" stroke-width="1.1"/>
<line x1="412.20" y1="430.20" x2="520.00" y2="430.20" stroke="#231f20" stroke-width="1.1"/>
<line x1="410.30" y1="358.00" x2="412.70" y2="358.00" stroke="#231f20" stroke-width="1"/>
<text x="408.00" y="360.80" font-size="7.8" text-anchor="end" fill="#2e2e2e" stroke="#2e2e2e" stroke-width="0.18" textLength="15.3" lengthAdjust="spacingAndGlyphs">1.25</text>
<line x1="410.30" y1="378.30" x2="412.70" y2="378.30" stroke="#231f20" stroke-width="1"/>
<text x="408.00" y="381.10" font-size="7.8" text-anchor="end" fill="#2e2e2e" stroke="#2e2e2e" stroke-width="0.18" textLength="15.3" lengthAdjust="spacingAndGlyphs">1.00</text>
<line x1="410.30" y1="398.60" x2="412.70" y2="398.60" stroke="#231f20" stroke-width="1"/>
<text x="408.00" y="401.40" font-size="7.8" text-anchor="end" fill="#2e2e2e" stroke="#2e2e2e" stroke-width="0.18" textLength="15.3" lengthAdjust="spacingAndGlyphs">0.75</text>
<line x1="410.30" y1="418.90" x2="412.70" y2="418.90" stroke="#231f20" stroke-width="1"/>
<text x="408.00" y="421.70" font-size="7.8" text-anchor="end" fill="#2e2e2e" stroke="#2e2e2e" stroke-width="0.18" textLength="15.3" lengthAdjust="spacingAndGlyphs">0.50</text>
<text x="385.60" y="394.70" font-size="9.4" text-anchor="middle" fill="#2e2e2e" stroke="#2e2e2e" stroke-width="0.18" textLength="86" lengthAdjust="spacingAndGlyphs" transform="rotate(-90 385.60 394.70)">Viability relative to DMSO</text>
<rect x="420.00" y="378.70" width="12.40" height="51.50" fill="#dcdcdc" stroke="#d2d2d2" stroke-width="0.8" opacity="1"/>
<line x1="423.80" y1="377.49" x2="428.60" y2="377.49" stroke="#333" stroke-width="0.8"/>
<line x1="426.20" y1="377.49" x2="426.20" y2="379.11" stroke="#333" stroke-width="0.8"/>
<circle cx="423.70" cy="378.30" r="1.3" fill="#999" stroke="none" stroke-width="0"/>
<circle cx="426.20" cy="378.30" r="1.3" fill="#999" stroke="none" stroke-width="0"/>
<circle cx="428.70" cy="378.30" r="1.3" fill="#999" stroke="none" stroke-width="0"/>
<line x1="426.20" y1="430.20" x2="426.20" y2="432.50" stroke="#231f20" stroke-width="1"/>
<rect x="440.00" y="386.01" width="12.40" height="44.19" fill="#f2dc8c" stroke="#e9cb66" stroke-width="0.8" opacity="1"/>
<line x1="443.80" y1="384.80" x2="448.60" y2="384.80" stroke="#333" stroke-width="0.8"/>
<line x1="446.20" y1="384.80" x2="446.20" y2="386.42" stroke="#333" stroke-width="0.8"/>
<circle cx="443.70" cy="385.61" r="1.3" fill="#c9a520" stroke="none" stroke-width="0"/>
<circle cx="446.20" cy="385.61" r="1.3" fill="#c9a520" stroke="none" stroke-width="0"/>
<circle cx="448.70" cy="385.61" r="1.3" fill="#c9a520" stroke="none" stroke-width="0"/>
<line x1="446.20" y1="430.20" x2="446.20" y2="432.50" stroke="#231f20" stroke-width="1"/>
<rect x="459.80" y="393.72" width="12.40" height="36.48" fill="#f2dc8c" stroke="#e9cb66" stroke-width="0.8" opacity="1"/>
<line x1="463.60" y1="392.51" x2="468.40" y2="392.51" stroke="#333" stroke-width="0.8"/>
<line x1="466.00" y1="392.51" x2="466.00" y2="394.13" stroke="#333" stroke-width="0.8"/>
<circle cx="463.50" cy="393.32" r="1.3" fill="#c9a520" stroke="none" stroke-width="0"/>
<circle cx="466.00" cy="393.32" r="1.3" fill="#c9a520" stroke="none" stroke-width="0"/>
<circle cx="468.50" cy="393.32" r="1.3" fill="#c9a520" stroke="none" stroke-width="0"/>
<line x1="466.00" y1="430.20" x2="466.00" y2="432.50" stroke="#231f20" stroke-width="1"/>
<rect x="479.90" y="412.80" width="12.40" height="17.40" fill="#b8874c" stroke="#a87a42" stroke-width="0.8" opacity="1"/>
<line x1="483.70" y1="409.97" x2="488.50" y2="409.97" stroke="#333" stroke-width="0.8"/>
<line x1="486.10" y1="409.97" x2="486.10" y2="414.84" stroke="#333" stroke-width="0.8"/>
<circle cx="483.60" cy="412.40" r="1.3" fill="#7a4a24" stroke="none" stroke-width="0"/>
<circle cx="486.10" cy="412.40" r="1.3" fill="#7a4a24" stroke="none" stroke-width="0"/>
<circle cx="488.60" cy="412.40" r="1.3" fill="#7a4a24" stroke="none" stroke-width="0"/>
<line x1="486.10" y1="430.20" x2="486.10" y2="432.50" stroke="#231f20" stroke-width="1"/>
<rect x="499.80" y="418.49" width="12.40" height="11.71" fill="#b8874c" stroke="#a87a42" stroke-width="0.8" opacity="1"/>
<line x1="503.60" y1="415.65" x2="508.40" y2="415.65" stroke="#333" stroke-width="0.8"/>
<line x1="506.00" y1="415.65" x2="506.00" y2="420.52" stroke="#333" stroke-width="0.8"/>
<circle cx="503.50" cy="418.09" r="1.3" fill="#7a4a24" stroke="none" stroke-width="0"/>
<circle cx="506.00" cy="418.09" r="1.3" fill="#7a4a24" stroke="none" stroke-width="0"/>
<circle cx="508.50" cy="418.09" r="1.3" fill="#7a4a24" stroke="none" stroke-width="0"/>
<line x1="506.00" y1="430.20" x2="506.00" y2="432.50" stroke="#231f20" stroke-width="1"/>
<path d="M425.7,339.20 L425.7,328.70 L506.1,328.70 L506.1,414.03" fill="none" stroke="#444" stroke-width="0.9"/>
<circle cx="465.05" cy="324.90" r="1.05" fill="#2a2a2a" stroke="none" stroke-width="0"/>
<circle cx="468.35" cy="324.90" r="1.05" fill="#2a2a2a" stroke="none" stroke-width="0"/>
<circle cx="471.65" cy="324.90" r="1.05" fill="#2a2a2a" stroke="none" stroke-width="0"/>
<circle cx="474.95" cy="324.90" r="1.05" fill="#2a2a2a" stroke="none" stroke-width="0"/>
<path d="M425.7,353.10 L425.7,342.60 L486.0,342.60 L486.0,408.34" fill="none" stroke="#444" stroke-width="0.9"/>
<circle cx="453.05" cy="338.80" r="1.05" fill="#2a2a2a" stroke="none" stroke-width="0"/>
<circle cx="456.35" cy="338.80" r="1.05" fill="#2a2a2a" stroke="none" stroke-width="0"/>
<circle cx="459.65" cy="338.80" r="1.05" fill="#2a2a2a" stroke="none" stroke-width="0"/>
<circle cx="462.95" cy="338.80" r="1.05" fill="#2a2a2a" stroke="none" stroke-width="0"/>
<path d="M425.7,366.60 L425.7,356.10 L466.0,356.10 L466.0,392.10" fill="none" stroke="#444" stroke-width="0.9"/>
<circle cx="442.95" cy="352.30" r="1.05" fill="#2a2a2a" stroke="none" stroke-width="0"/>
<circle cx="446.25" cy="352.30" r="1.05" fill="#2a2a2a" stroke="none" stroke-width="0"/>
<circle cx="449.55" cy="352.30" r="1.05" fill="#2a2a2a" stroke="none" stroke-width="0"/>
<circle cx="452.85" cy="352.30" r="1.05" fill="#2a2a2a" stroke="none" stroke-width="0"/>
<path d="M425.7,374.50 L425.7,369.40 L446.4,369.40 L446.4,383.98" fill="none" stroke="#444" stroke-width="0.9"/>
<circle cx="433.45" cy="365.60" r="1.05" fill="#2a2a2a" stroke="none" stroke-width="0"/>
<circle cx="436.75" cy="365.60" r="1.05" fill="#2a2a2a" stroke="none" stroke-width="0"/>
<circle cx="440.05" cy="365.60" r="1.05" fill="#2a2a2a" stroke="none" stroke-width="0"/>
<circle cx="443.35" cy="365.60" r="1.05" fill="#2a2a2a" stroke="none" stroke-width="0"/>
<text x="427.80" y="439.50" font-size="8.4" text-anchor="end" fill="#2e2e2e" stroke="#2e2e2e" stroke-width="0.18" textLength="23" lengthAdjust="spacingAndGlyphs" transform="rotate(-45 427.80 439.50)">DMSO</text>
<text x="447.70" y="439.50" font-size="8.4" text-anchor="end" fill="#2e2e2e" stroke="#2e2e2e" stroke-width="0.18" textLength="48.5" lengthAdjust="spacingAndGlyphs" transform="rotate(-45 447.70 439.50)">Ro-3306 5 µM</text>
<text x="467.40" y="439.50" font-size="8.4" text-anchor="end" fill="#2e2e2e" stroke="#2e2e2e" stroke-width="0.18" textLength="48.5" lengthAdjust="spacingAndGlyphs" transform="rotate(-45 467.40 439.50)">Ro-3306 7 µM</text>
<text x="487.40" y="439.50" font-size="8.4" text-anchor="end" fill="#2e2e2e" stroke="#2e2e2e" stroke-width="0.18" textLength="33.5" lengthAdjust="spacingAndGlyphs" transform="rotate(-45 487.40 439.50)">BMS 5 µM</text>
<text x="507.60" y="439.50" font-size="8.4" text-anchor="end" fill="#2e2e2e" stroke="#2e2e2e" stroke-width="0.18" textLength="33.5" lengthAdjust="spacingAndGlyphs" transform="rotate(-45 507.60 439.50)">BMS 7 µM</text>
</svg>
</body></html>
